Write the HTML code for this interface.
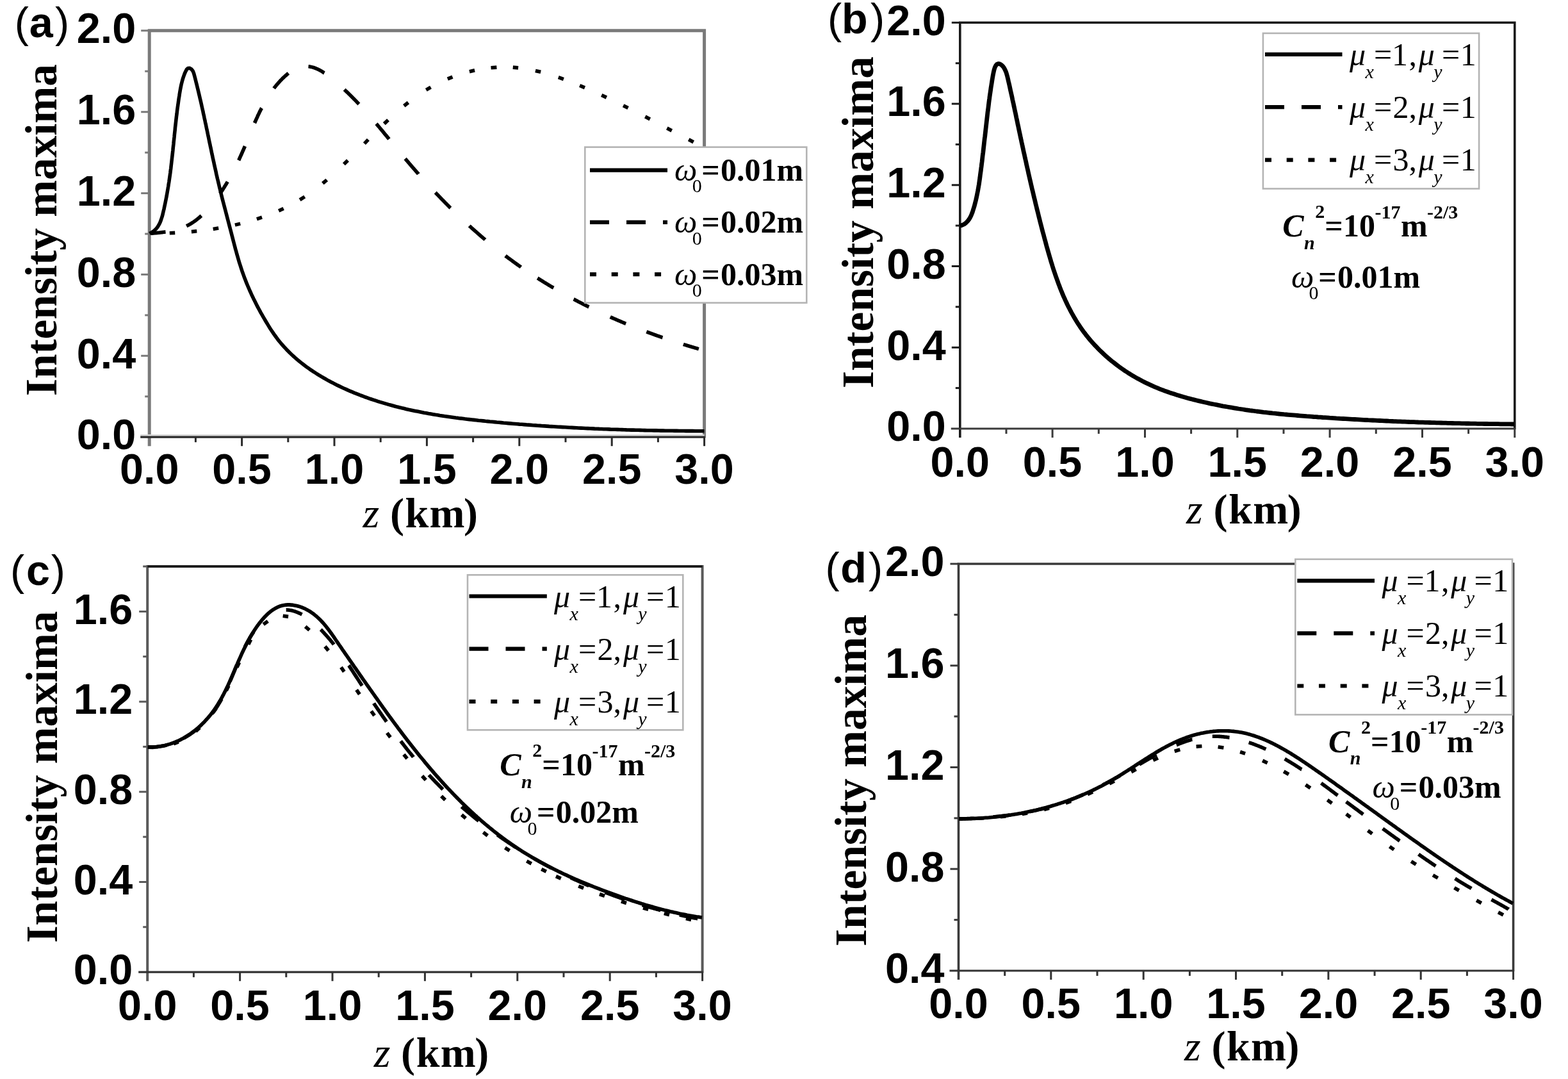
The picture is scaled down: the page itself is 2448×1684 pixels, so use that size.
<!DOCTYPE html>
<html><head><meta charset="utf-8"><title>Intensity maxima vs z</title>
<style>html,body{margin:0;padding:0;background:#fff;}svg{display:block;}.tk{font-family:'Liberation Sans', Arial, sans-serif;font-weight:bold;font-size:66.5px;fill:#000;}.yl{font-family:'Liberation Serif', 'Times New Roman', serif;font-weight:bold;font-size:70px;fill:#000;}.xl{font-family:'Liberation Serif', 'Times New Roman', serif;font-weight:bold;font-size:66px;fill:#000;}.pl{font-family:'Liberation Sans', Arial, sans-serif;font-size:66.5px;fill:#000;}.lg{font-family:'Liberation Serif', 'Times New Roman', serif;font-size:50px;fill:#000;}.b{font-weight:bold;}.i{font-style:italic;}.s{font-size:30px;}</style></head><body>
<svg xmlns="http://www.w3.org/2000/svg" width="2448" height="1684" viewBox="0 0 2448 1684">
<rect width="100%" height="100%" fill="#fff"/>
<path d="M233.2,696.2 V47.8 H1099.6 V683.2" fill="none" stroke="#7a7a7a" stroke-width="5.0"/>
<line x1="219.2" y1="679.6" x2="1099.6" y2="679.6" stroke="#d6d6d6" stroke-width="3"/>
<line x1="219.2" y1="682.2" x2="1100.6" y2="682.2" stroke="#2a2a2a" stroke-width="3.2"/>
<line x1="226.2" y1="618.8" x2="233.2" y2="618.8" stroke="#7a7a7a" stroke-width="3"/>
<line x1="220.2" y1="555.3" x2="233.2" y2="555.3" stroke="#7a7a7a" stroke-width="3"/>
<line x1="226.2" y1="491.9" x2="233.2" y2="491.9" stroke="#7a7a7a" stroke-width="3"/>
<line x1="220.2" y1="428.4" x2="233.2" y2="428.4" stroke="#7a7a7a" stroke-width="3"/>
<line x1="226.2" y1="365.0" x2="233.2" y2="365.0" stroke="#7a7a7a" stroke-width="3"/>
<line x1="220.2" y1="301.6" x2="233.2" y2="301.6" stroke="#7a7a7a" stroke-width="3"/>
<line x1="226.2" y1="238.1" x2="233.2" y2="238.1" stroke="#7a7a7a" stroke-width="3"/>
<line x1="220.2" y1="174.7" x2="233.2" y2="174.7" stroke="#7a7a7a" stroke-width="3"/>
<line x1="226.2" y1="111.2" x2="233.2" y2="111.2" stroke="#7a7a7a" stroke-width="3"/>
<line x1="220.2" y1="47.8" x2="233.2" y2="47.8" stroke="#7a7a7a" stroke-width="3"/>
<line x1="305.4" y1="682.2" x2="305.4" y2="690.2" stroke="#2a2a2a" stroke-width="3"/>
<line x1="377.6" y1="682.2" x2="377.6" y2="696.2" stroke="#2a2a2a" stroke-width="3"/>
<line x1="449.8" y1="682.2" x2="449.8" y2="690.2" stroke="#2a2a2a" stroke-width="3"/>
<line x1="522.0" y1="682.2" x2="522.0" y2="696.2" stroke="#2a2a2a" stroke-width="3"/>
<line x1="594.2" y1="682.2" x2="594.2" y2="690.2" stroke="#2a2a2a" stroke-width="3"/>
<line x1="666.4" y1="682.2" x2="666.4" y2="696.2" stroke="#2a2a2a" stroke-width="3"/>
<line x1="738.6" y1="682.2" x2="738.6" y2="690.2" stroke="#2a2a2a" stroke-width="3"/>
<line x1="810.8" y1="682.2" x2="810.8" y2="696.2" stroke="#2a2a2a" stroke-width="3"/>
<line x1="883.0" y1="682.2" x2="883.0" y2="690.2" stroke="#2a2a2a" stroke-width="3"/>
<line x1="955.2" y1="682.2" x2="955.2" y2="696.2" stroke="#2a2a2a" stroke-width="3"/>
<line x1="1027.4" y1="682.2" x2="1027.4" y2="690.2" stroke="#2a2a2a" stroke-width="3"/>
<line x1="1099.6" y1="682.2" x2="1099.6" y2="696.2" stroke="#2a2a2a" stroke-width="3"/>
<text x="212.2" y="701.4" text-anchor="end" class="tk">0.0</text>
<text x="212.2" y="574.5" text-anchor="end" class="tk">0.4</text>
<text x="212.2" y="447.6" text-anchor="end" class="tk">0.8</text>
<text x="212.2" y="320.8" text-anchor="end" class="tk">1.2</text>
<text x="212.2" y="193.9" text-anchor="end" class="tk">1.6</text>
<text x="212.2" y="67.0" text-anchor="end" class="tk">2.0</text>
<text x="233.2" y="755.2" text-anchor="middle" class="tk">0.0</text>
<text x="377.6" y="755.2" text-anchor="middle" class="tk">0.5</text>
<text x="522.0" y="755.2" text-anchor="middle" class="tk">1.0</text>
<text x="666.4" y="755.2" text-anchor="middle" class="tk">1.5</text>
<text x="810.8" y="755.2" text-anchor="middle" class="tk">2.0</text>
<text x="955.2" y="755.2" text-anchor="middle" class="tk">2.5</text>
<text x="1099.6" y="755.2" text-anchor="middle" class="tk">3.0</text>
<path d="M1498.8,683.0 V35.3 H2364.8 V670.0" fill="none" stroke="#1a1a1a" stroke-width="3.6"/>
<line x1="1484.8" y1="669.0" x2="2365.8" y2="669.0" stroke="#3a3a3a" stroke-width="3.2"/>
<line x1="1491.8" y1="605.6" x2="1498.8" y2="605.6" stroke="#1a1a1a" stroke-width="3"/>
<line x1="1485.8" y1="542.3" x2="1498.8" y2="542.3" stroke="#1a1a1a" stroke-width="3"/>
<line x1="1491.8" y1="478.9" x2="1498.8" y2="478.9" stroke="#1a1a1a" stroke-width="3"/>
<line x1="1485.8" y1="415.5" x2="1498.8" y2="415.5" stroke="#1a1a1a" stroke-width="3"/>
<line x1="1491.8" y1="352.1" x2="1498.8" y2="352.1" stroke="#1a1a1a" stroke-width="3"/>
<line x1="1485.8" y1="288.8" x2="1498.8" y2="288.8" stroke="#1a1a1a" stroke-width="3"/>
<line x1="1491.8" y1="225.4" x2="1498.8" y2="225.4" stroke="#1a1a1a" stroke-width="3"/>
<line x1="1485.8" y1="162.0" x2="1498.8" y2="162.0" stroke="#1a1a1a" stroke-width="3"/>
<line x1="1491.8" y1="98.7" x2="1498.8" y2="98.7" stroke="#1a1a1a" stroke-width="3"/>
<line x1="1485.8" y1="35.3" x2="1498.8" y2="35.3" stroke="#1a1a1a" stroke-width="3"/>
<line x1="1571.0" y1="669.0" x2="1571.0" y2="677.0" stroke="#3a3a3a" stroke-width="3"/>
<line x1="1643.1" y1="669.0" x2="1643.1" y2="683.0" stroke="#3a3a3a" stroke-width="3"/>
<line x1="1715.3" y1="669.0" x2="1715.3" y2="677.0" stroke="#3a3a3a" stroke-width="3"/>
<line x1="1787.5" y1="669.0" x2="1787.5" y2="683.0" stroke="#3a3a3a" stroke-width="3"/>
<line x1="1859.6" y1="669.0" x2="1859.6" y2="677.0" stroke="#3a3a3a" stroke-width="3"/>
<line x1="1931.8" y1="669.0" x2="1931.8" y2="683.0" stroke="#3a3a3a" stroke-width="3"/>
<line x1="2004.0" y1="669.0" x2="2004.0" y2="677.0" stroke="#3a3a3a" stroke-width="3"/>
<line x1="2076.1" y1="669.0" x2="2076.1" y2="683.0" stroke="#3a3a3a" stroke-width="3"/>
<line x1="2148.3" y1="669.0" x2="2148.3" y2="677.0" stroke="#3a3a3a" stroke-width="3"/>
<line x1="2220.5" y1="669.0" x2="2220.5" y2="683.0" stroke="#3a3a3a" stroke-width="3"/>
<line x1="2292.6" y1="669.0" x2="2292.6" y2="677.0" stroke="#3a3a3a" stroke-width="3"/>
<line x1="2364.8" y1="669.0" x2="2364.8" y2="683.0" stroke="#3a3a3a" stroke-width="3"/>
<text x="1476.8" y="688.2" text-anchor="end" class="tk">0.0</text>
<text x="1476.8" y="561.5" text-anchor="end" class="tk">0.4</text>
<text x="1476.8" y="434.7" text-anchor="end" class="tk">0.8</text>
<text x="1476.8" y="308.0" text-anchor="end" class="tk">1.2</text>
<text x="1476.8" y="181.2" text-anchor="end" class="tk">1.6</text>
<text x="1476.8" y="54.5" text-anchor="end" class="tk">2.0</text>
<text x="1498.8" y="743.5" text-anchor="middle" class="tk">0.0</text>
<text x="1643.1" y="743.5" text-anchor="middle" class="tk">0.5</text>
<text x="1787.5" y="743.5" text-anchor="middle" class="tk">1.0</text>
<text x="1931.8" y="743.5" text-anchor="middle" class="tk">1.5</text>
<text x="2076.1" y="743.5" text-anchor="middle" class="tk">2.0</text>
<text x="2220.5" y="743.5" text-anchor="middle" class="tk">2.5</text>
<text x="2364.8" y="743.5" text-anchor="middle" class="tk">3.0</text>
<path d="M230.2,1531.2 V884.0 H1096.6 V1518.2" fill="none" stroke="#5a5a5a" stroke-width="4.0"/>
<line x1="230.2" y1="884.0" x2="1096.6" y2="884.0" stroke="#1a1a1a" stroke-width="3.4"/>
<line x1="216.2" y1="1517.2" x2="1097.6" y2="1517.2" stroke="#333" stroke-width="3.2"/>
<line x1="223.2" y1="1446.8" x2="230.2" y2="1446.8" stroke="#5a5a5a" stroke-width="3"/>
<line x1="217.2" y1="1376.5" x2="230.2" y2="1376.5" stroke="#5a5a5a" stroke-width="3"/>
<line x1="223.2" y1="1306.1" x2="230.2" y2="1306.1" stroke="#5a5a5a" stroke-width="3"/>
<line x1="217.2" y1="1235.8" x2="230.2" y2="1235.8" stroke="#5a5a5a" stroke-width="3"/>
<line x1="223.2" y1="1165.4" x2="230.2" y2="1165.4" stroke="#5a5a5a" stroke-width="3"/>
<line x1="217.2" y1="1095.1" x2="230.2" y2="1095.1" stroke="#5a5a5a" stroke-width="3"/>
<line x1="223.2" y1="1024.7" x2="230.2" y2="1024.7" stroke="#5a5a5a" stroke-width="3"/>
<line x1="217.2" y1="954.4" x2="230.2" y2="954.4" stroke="#5a5a5a" stroke-width="3"/>
<line x1="223.2" y1="884.0" x2="230.2" y2="884.0" stroke="#5a5a5a" stroke-width="3"/>
<line x1="302.4" y1="1517.2" x2="302.4" y2="1525.2" stroke="#333" stroke-width="3"/>
<line x1="374.6" y1="1517.2" x2="374.6" y2="1531.2" stroke="#333" stroke-width="3"/>
<line x1="446.8" y1="1517.2" x2="446.8" y2="1525.2" stroke="#333" stroke-width="3"/>
<line x1="519.0" y1="1517.2" x2="519.0" y2="1531.2" stroke="#333" stroke-width="3"/>
<line x1="591.2" y1="1517.2" x2="591.2" y2="1525.2" stroke="#333" stroke-width="3"/>
<line x1="663.4" y1="1517.2" x2="663.4" y2="1531.2" stroke="#333" stroke-width="3"/>
<line x1="735.6" y1="1517.2" x2="735.6" y2="1525.2" stroke="#333" stroke-width="3"/>
<line x1="807.8" y1="1517.2" x2="807.8" y2="1531.2" stroke="#333" stroke-width="3"/>
<line x1="880.0" y1="1517.2" x2="880.0" y2="1525.2" stroke="#333" stroke-width="3"/>
<line x1="952.2" y1="1517.2" x2="952.2" y2="1531.2" stroke="#333" stroke-width="3"/>
<line x1="1024.4" y1="1517.2" x2="1024.4" y2="1525.2" stroke="#333" stroke-width="3"/>
<line x1="1096.6" y1="1517.2" x2="1096.6" y2="1531.2" stroke="#333" stroke-width="3"/>
<text x="207.2" y="1536.4" text-anchor="end" class="tk">0.0</text>
<text x="207.2" y="1395.7" text-anchor="end" class="tk">0.4</text>
<text x="207.2" y="1255.0" text-anchor="end" class="tk">0.8</text>
<text x="207.2" y="1114.3" text-anchor="end" class="tk">1.2</text>
<text x="207.2" y="973.6" text-anchor="end" class="tk">1.6</text>
<text x="230.2" y="1591.7" text-anchor="middle" class="tk">0.0</text>
<text x="374.6" y="1591.7" text-anchor="middle" class="tk">0.5</text>
<text x="519.0" y="1591.7" text-anchor="middle" class="tk">1.0</text>
<text x="663.4" y="1591.7" text-anchor="middle" class="tk">1.5</text>
<text x="807.8" y="1591.7" text-anchor="middle" class="tk">2.0</text>
<text x="952.2" y="1591.7" text-anchor="middle" class="tk">2.5</text>
<text x="1096.6" y="1591.7" text-anchor="middle" class="tk">3.0</text>
<path d="M1496.5,1529.0 V880.0 H2362.6 V1516.0" fill="none" stroke="#3a3a3a" stroke-width="3.6"/>
<line x1="1482.5" y1="1515.0" x2="2363.6" y2="1515.0" stroke="#333" stroke-width="3.2"/>
<line x1="1489.5" y1="1435.6" x2="1496.5" y2="1435.6" stroke="#3a3a3a" stroke-width="3"/>
<line x1="1483.5" y1="1356.2" x2="1496.5" y2="1356.2" stroke="#3a3a3a" stroke-width="3"/>
<line x1="1489.5" y1="1276.9" x2="1496.5" y2="1276.9" stroke="#3a3a3a" stroke-width="3"/>
<line x1="1483.5" y1="1197.5" x2="1496.5" y2="1197.5" stroke="#3a3a3a" stroke-width="3"/>
<line x1="1489.5" y1="1118.1" x2="1496.5" y2="1118.1" stroke="#3a3a3a" stroke-width="3"/>
<line x1="1483.5" y1="1038.8" x2="1496.5" y2="1038.8" stroke="#3a3a3a" stroke-width="3"/>
<line x1="1489.5" y1="959.4" x2="1496.5" y2="959.4" stroke="#3a3a3a" stroke-width="3"/>
<line x1="1483.5" y1="880.0" x2="1496.5" y2="880.0" stroke="#3a3a3a" stroke-width="3"/>
<line x1="1568.7" y1="1515.0" x2="1568.7" y2="1523.0" stroke="#333" stroke-width="3"/>
<line x1="1640.8" y1="1515.0" x2="1640.8" y2="1529.0" stroke="#333" stroke-width="3"/>
<line x1="1713.0" y1="1515.0" x2="1713.0" y2="1523.0" stroke="#333" stroke-width="3"/>
<line x1="1785.2" y1="1515.0" x2="1785.2" y2="1529.0" stroke="#333" stroke-width="3"/>
<line x1="1857.4" y1="1515.0" x2="1857.4" y2="1523.0" stroke="#333" stroke-width="3"/>
<line x1="1929.5" y1="1515.0" x2="1929.5" y2="1529.0" stroke="#333" stroke-width="3"/>
<line x1="2001.7" y1="1515.0" x2="2001.7" y2="1523.0" stroke="#333" stroke-width="3"/>
<line x1="2073.9" y1="1515.0" x2="2073.9" y2="1529.0" stroke="#333" stroke-width="3"/>
<line x1="2146.1" y1="1515.0" x2="2146.1" y2="1523.0" stroke="#333" stroke-width="3"/>
<line x1="2218.2" y1="1515.0" x2="2218.2" y2="1529.0" stroke="#333" stroke-width="3"/>
<line x1="2290.4" y1="1515.0" x2="2290.4" y2="1523.0" stroke="#333" stroke-width="3"/>
<line x1="2362.6" y1="1515.0" x2="2362.6" y2="1529.0" stroke="#333" stroke-width="3"/>
<text x="1474.5" y="1534.2" text-anchor="end" class="tk">0.4</text>
<text x="1474.5" y="1375.5" text-anchor="end" class="tk">0.8</text>
<text x="1474.5" y="1216.7" text-anchor="end" class="tk">1.2</text>
<text x="1474.5" y="1058.0" text-anchor="end" class="tk">1.6</text>
<text x="1474.5" y="899.2" text-anchor="end" class="tk">2.0</text>
<text x="1496.5" y="1588.5" text-anchor="middle" class="tk">0.0</text>
<text x="1640.8" y="1588.5" text-anchor="middle" class="tk">0.5</text>
<text x="1785.2" y="1588.5" text-anchor="middle" class="tk">1.0</text>
<text x="1929.5" y="1588.5" text-anchor="middle" class="tk">1.5</text>
<text x="2073.9" y="1588.5" text-anchor="middle" class="tk">2.0</text>
<text x="2218.2" y="1588.5" text-anchor="middle" class="tk">2.5</text>
<text x="2362.6" y="1588.5" text-anchor="middle" class="tk">3.0</text>
<path d="M233.5,364.5 L236.8,362.8 L239.7,360.9 L242.3,358.6 L244.6,356.1 L246.6,353.3 L248.3,350.4 L249.9,347.2 L251.2,343.9 L252.3,340.5 L253.4,337.1 L254.3,333.5 L255.1,329.9 L256.0,326.4 L256.7,322.8 L257.5,319.2 L258.2,315.7 L258.9,312.2 L259.6,308.7 L260.3,305.1 L260.9,301.6 L261.5,298.1 L262.1,294.6 L262.7,291.1 L263.2,287.6 L263.8,284.1 L264.3,280.6 L264.8,277.1 L265.3,273.6 L265.8,270.1 L266.2,266.6 L266.7,263.1 L267.1,259.5 L267.5,256.0 L267.9,252.5 L268.3,249.0 L268.7,245.4 L269.1,241.9 L269.5,238.4 L269.9,234.8 L270.2,231.3 L270.6,227.7 L271.0,224.2 L271.3,220.6 L271.7,217.1 L272.1,213.5 L272.4,210.0 L272.8,206.4 L273.2,202.9 L273.5,199.3 L273.9,195.8 L274.3,192.2 L274.7,188.7 L275.1,185.1 L275.5,181.6 L276.0,178.0 L276.4,174.5 L276.8,170.9 L277.3,167.4 L277.8,163.8 L278.3,160.3 L278.8,156.7 L279.3,153.2 L279.9,149.7 L280.4,146.1 L281.0,142.6 L281.6,139.1 L282.3,135.6 L283.0,132.1 L283.9,128.6 L284.8,125.1 L285.8,121.7 L287.0,118.4 L288.2,115.0 L289.7,111.7 L291.3,108.6 L293.4,106.5 L296.2,106.4 L299.1,108.2 L301.2,111.0 L302.6,114.6 L303.6,118.3 L304.6,122.0 L305.5,125.7 L306.4,129.2 L307.3,132.8 L308.1,136.2 L309.0,139.7 L309.8,143.1 L310.6,146.5 L311.4,149.9 L312.2,153.3 L313.0,156.7 L313.8,160.1 L314.6,163.6 L315.3,167.0 L316.1,170.5 L316.9,173.9 L317.6,177.4 L318.4,180.8 L319.1,184.3 L319.9,187.8 L320.6,191.3 L321.4,194.7 L322.1,198.2 L322.8,201.7 L323.6,205.2 L324.3,208.7 L325.0,212.2 L325.8,215.7 L326.5,219.2 L327.2,222.7 L328.0,226.2 L328.7,229.7 L329.5,233.2 L330.2,236.7 L330.9,240.2 L331.7,243.7 L332.4,247.2 L333.2,250.7 L334.0,254.2 L334.7,257.7 L335.5,261.1 L336.3,264.6 L337.1,268.1 L337.8,271.6 L338.6,275.1 L339.4,278.6 L340.3,282.1 L341.1,285.5 L341.9,289.0 L342.7,292.5 L343.6,295.9 L344.4,299.4 L345.3,302.8 L346.1,306.3 L347.0,309.7 L347.9,313.2 L348.8,316.6 L349.7,320.1 L350.6,323.5 L351.5,326.9 L352.4,330.4 L353.3,333.8 L354.2,337.3 L355.1,340.7 L356.0,344.1 L356.9,347.6 L357.8,351.0 L358.7,354.5 L359.6,357.9 L360.5,361.3 L361.4,364.8 L362.3,368.3 L363.2,371.7 L364.1,375.2 L365.0,378.6 L365.9,382.1 L366.8,385.5 L367.7,389.0 L368.7,392.4 L369.6,395.9 L370.6,399.3 L371.6,402.8 L372.6,406.2 L373.6,409.6 L374.7,413.0 L375.8,416.4 L376.9,419.8 L378.0,423.2 L379.2,426.5 L380.4,429.9 L381.6,433.2 L382.9,436.6 L384.2,439.9 L385.5,443.2 L386.9,446.5 L388.3,449.7 L389.7,453.0 L391.2,456.2 L392.6,459.5 L394.2,462.7 L395.7,465.9 L397.3,469.1 L398.9,472.3 L400.5,475.5 L402.1,478.6 L403.8,481.8 L405.5,484.9 L407.2,488.1 L409.0,491.2 L410.8,494.3 L412.6,497.4 L414.4,500.5 L416.2,503.5 L418.1,506.6 L419.9,509.6 L421.8,512.7 L423.8,515.7 L425.8,518.6 L427.8,521.6 L429.9,524.5 L432.0,527.4 L434.1,530.2 L436.3,533.0 L438.6,535.7 L440.9,538.4 L443.3,541.1 L445.7,543.7 L448.1,546.2 L450.6,548.8 L453.1,551.3 L455.7,553.7 L458.3,556.1 L461.0,558.5 L463.7,560.8 L466.4,563.1 L469.2,565.4 L472.0,567.6 L474.8,569.7 L477.7,571.9 L480.6,574.0 L483.5,576.1 L486.5,578.1 L489.5,580.1 L492.5,582.0 L495.5,584.0 L498.6,585.8 L501.6,587.7 L504.7,589.5 L507.9,591.3 L511.0,593.1 L514.1,594.8 L517.3,596.5 L520.5,598.1 L523.7,599.8 L526.9,601.4 L530.1,602.9 L533.4,604.5 L536.6,606.0 L539.9,607.4 L543.1,608.9 L546.4,610.3 L549.7,611.7 L553.0,613.1 L556.3,614.4 L559.6,615.7 L562.9,617.0 L566.2,618.2 L569.5,619.5 L572.9,620.7 L576.2,621.9 L579.6,623.0 L583.0,624.1 L586.3,625.2 L589.7,626.3 L593.1,627.4 L596.5,628.4 L599.9,629.4 L603.3,630.4 L606.7,631.4 L610.1,632.3 L613.6,633.3 L617.0,634.2 L620.4,635.1 L623.9,635.9 L627.3,636.8 L630.8,637.6 L634.2,638.4 L637.7,639.2 L641.2,639.9 L644.7,640.7 L648.1,641.4 L651.6,642.1 L655.1,642.8 L658.6,643.5 L662.1,644.2 L665.6,644.8 L669.1,645.5 L672.6,646.1 L676.2,646.7 L679.7,647.3 L683.2,647.8 L686.7,648.4 L690.3,648.9 L693.8,649.5 L697.3,650.0 L700.9,650.5 L704.4,651.0 L707.9,651.5 L711.5,652.0 L715.0,652.4 L718.6,652.9 L722.1,653.3 L725.7,653.8 L729.2,654.2 L732.8,654.6 L736.4,655.0 L739.9,655.4 L743.5,655.8 L747.0,656.2 L750.6,656.5 L754.2,656.9 L757.7,657.3 L761.3,657.6 L764.8,658.0 L768.4,658.3 L772.0,658.6 L775.5,659.0 L779.1,659.3 L782.6,659.6 L786.2,660.0 L789.7,660.3 L793.3,660.6 L796.9,660.9 L800.4,661.2 L804.0,661.5 L807.5,661.8 L811.1,662.1 L814.6,662.3 L818.2,662.6 L821.8,662.9 L825.3,663.1 L828.9,663.4 L832.4,663.7 L836.0,663.9 L839.5,664.2 L843.1,664.4 L846.6,664.7 L850.2,664.9 L853.8,665.1 L857.3,665.4 L860.9,665.6 L864.4,665.8 L868.0,666.0 L871.5,666.2 L875.1,666.4 L878.6,666.6 L882.2,666.8 L885.7,667.0 L889.3,667.2 L892.8,667.4 L896.4,667.6 L900.0,667.8 L903.5,668.0 L907.1,668.1 L910.6,668.3 L914.2,668.5 L917.7,668.6 L921.3,668.8 L924.8,668.9 L928.4,669.1 L932.0,669.2 L935.5,669.4 L939.1,669.5 L942.6,669.7 L946.2,669.8 L949.7,669.9 L953.3,670.1 L956.8,670.2 L960.4,670.3 L964.0,670.4 L967.5,670.5 L971.1,670.6 L974.6,670.7 L978.2,670.9 L981.8,671.0 L985.3,671.1 L988.9,671.1 L992.4,671.2 L996.0,671.3 L999.6,671.4 L1003.1,671.5 L1006.7,671.6 L1010.2,671.7 L1013.8,671.7 L1017.4,671.8 L1020.9,671.9 L1024.5,671.9 L1028.1,672.0 L1031.6,672.1 L1035.2,672.1 L1038.8,672.2 L1042.3,672.2 L1045.9,672.3 L1049.5,672.3 L1053.0,672.4 L1056.6,672.4 L1060.2,672.5 L1063.7,672.5 L1067.3,672.5 L1070.9,672.6 L1074.5,672.6 L1078.0,672.6 L1081.6,672.6 L1085.2,672.7 L1088.8,672.7 L1092.3,672.7 L1095.9,672.7 L1099.5,672.7" fill="none" stroke="#000" stroke-width="5.6" stroke-linejoin="round"/>
<path d="M235.7,364.3 L236.9,364.2 L238.0,364.1 L239.1,364.0 L240.3,363.9 L241.4,363.8 L242.6,363.7 L243.7,363.6 L244.9,363.5 L246.0,363.4 L247.2,363.3 L248.3,363.2 L249.5,363.0 L250.7,362.9 L251.8,362.8 L253.0,362.6 L254.2,362.5 L255.3,362.3 L256.5,362.2 L257.7,362.0 L258.5,361.9 M291.1,352.8 L292.1,352.3 L293.2,351.8 L294.2,351.2 L295.2,350.7 L296.2,350.1 L297.2,349.5 L298.2,349.0 L299.1,348.4 L300.1,347.7 L301.1,347.1 L302.0,346.5 L303.0,345.8 L303.9,345.2 L304.9,344.5 L305.8,343.8 L306.7,343.1 L307.6,342.4 L308.5,341.7 L309.4,340.9 L310.3,340.2 L311.2,339.5 L312.1,338.7 L312.9,337.9 L313.8,337.2 L314.4,336.7 M343.6,302.1 L344.2,301.2 L344.9,300.2 L345.5,299.3 L346.1,298.3 L346.8,297.3 L347.4,296.4 L348.1,295.4 L348.7,294.4 L349.3,293.4 L349.9,292.5 L350.5,291.5 L351.1,290.5 L351.7,289.5 L352.4,288.5 L353.0,287.5 L353.5,286.6 L354.1,285.6 L354.7,284.6 L355.3,283.6 L355.3,283.6 M372.6,250.2 L373.1,249.2 L373.6,248.1 L374.1,247.1 L374.6,246.0 L375.0,244.9 L375.5,243.9 L376.0,242.8 L376.5,241.8 L377.0,240.7 L377.4,239.6 L377.9,238.6 L378.4,237.5 L378.8,236.4 L379.3,235.3 L379.8,234.3 L380.2,233.2 L380.7,232.1 L381.2,231.1 L381.6,230.0 L382.1,228.9 L382.4,228.2 M397.5,192.0 L398.0,190.9 L398.4,189.8 L398.9,188.8 L399.4,187.7 L399.8,186.7 L400.3,185.6 L400.8,184.5 L401.3,183.5 L401.8,182.4 L402.2,181.4 L402.7,180.3 L403.2,179.3 L403.7,178.2 L404.2,177.2 L404.7,176.1 L405.2,175.1 L405.7,174.1 L406.2,173.0 L406.7,172.0 L407.3,171.0 L407.8,169.9 L408.3,168.9 L408.5,168.6 M427.6,137.9 L428.3,136.9 L429.1,136.0 L429.8,135.1 L430.5,134.2 L431.3,133.3 L432.0,132.4 L432.8,131.5 L433.6,130.6 L434.3,129.7 L435.1,128.8 L435.9,128.0 L436.7,127.1 L437.5,126.2 L438.3,125.3 L439.2,124.5 L440.0,123.6 L440.8,122.8 L441.7,121.9 L442.6,121.1 L443.4,120.3 L444.3,119.5 L445.2,118.7 L446.1,117.9 L447.0,117.1 L447.9,116.3 L448.8,115.5 L449.8,114.8 L450.4,114.3 M481.5,103.7 L482.6,103.8 L483.6,104.0 L484.7,104.2 L485.8,104.4 L486.8,104.6 L487.8,104.9 L488.9,105.2 L489.9,105.5 L491.0,105.9 L492.0,106.3 L493.0,106.7 L494.0,107.1 L495.1,107.5 L496.1,108.0 L497.1,108.5 L498.1,109.0 L499.1,109.5 L500.1,110.1 L501.1,110.6 L502.1,111.2 L503.1,111.8 L504.1,112.4 L505.1,113.1 L506.0,113.7 L506.4,113.9 M537.7,139.8 L538.6,140.7 L539.4,141.5 L540.3,142.3 L541.1,143.1 L542.0,143.9 L542.8,144.7 L543.7,145.5 L544.5,146.4 L545.4,147.2 L546.2,148.0 L547.0,148.8 L547.9,149.7 L548.7,150.5 L549.5,151.3 L550.4,152.2 L551.2,153.0 L552.0,153.8 L552.8,154.7 L553.7,155.5 L554.5,156.3 L555.3,157.2 L556.1,158.0 L556.9,158.9 L557.7,159.7 L558.5,160.5 L559.3,161.4 L560.1,162.2 L560.4,162.5 M587.5,193.1 L588.3,194.0 L589.0,194.9 L589.8,195.8 L590.5,196.7 L591.3,197.5 L592.0,198.4 L592.7,199.3 L593.5,200.2 L594.2,201.1 L595.0,202.0 L595.7,202.9 L596.4,203.7 L597.2,204.6 L597.9,205.5 L598.6,206.4 L599.4,207.3 L600.1,208.2 L600.8,209.1 L601.6,210.0 L602.3,210.9 L603.0,211.7 L603.8,212.6 L604.5,213.5 L605.2,214.4 L606.0,215.3 L606.7,216.2 L607.4,217.1 L607.4,217.1 M632.6,247.6 L633.4,248.5 L634.1,249.4 L634.9,250.3 L635.6,251.1 L636.4,252.0 L637.1,252.9 L637.9,253.8 L638.6,254.7 L639.4,255.5 L640.1,256.4 L640.9,257.3 L641.6,258.2 L642.4,259.1 L643.1,259.9 L643.9,260.8 L644.7,261.7 L645.4,262.6 L646.2,263.4 L646.9,264.3 L647.7,265.2 L648.5,266.1 L649.2,266.9 L650.0,267.8 L650.8,268.7 L651.5,269.6 L652.3,270.4 L653.1,271.3 L653.3,271.6 M679.7,300.5 L680.5,301.3 L681.3,302.1 L682.1,303.0 L683.0,303.8 L683.8,304.7 L684.6,305.5 L685.4,306.3 L686.2,307.2 L687.0,308.0 L687.8,308.9 L688.6,309.7 L689.4,310.5 L690.2,311.4 L691.0,312.2 L691.9,313.0 L692.7,313.9 L693.5,314.7 L694.3,315.5 L695.1,316.4 L695.9,317.2 L696.8,318.0 L697.6,318.8 L698.4,319.7 L699.2,320.5 L700.1,321.3 L700.9,322.1 L701.7,323.0 L702.5,323.8 L703.4,324.6 L703.4,324.6 M732.7,352.4 L733.5,353.2 L734.4,353.9 L735.3,354.7 L736.1,355.5 L737.0,356.3 L737.9,357.1 L738.7,357.8 L739.6,358.6 L740.5,359.4 L741.3,360.2 L742.2,360.9 L743.1,361.7 L744.0,362.5 L744.8,363.2 L745.7,364.0 L746.6,364.8 L747.5,365.5 L748.3,366.3 L749.2,367.0 L750.1,367.8 L751.0,368.6 L751.9,369.3 L752.8,370.1 L753.6,370.8 L754.5,371.6 L755.4,372.3 L756.3,373.1 L757.2,373.8 L757.5,374.1 M789.0,399.2 L789.9,399.9 L790.9,400.6 L791.8,401.3 L792.7,402.0 L793.7,402.7 L794.6,403.4 L795.5,404.0 L796.5,404.7 L797.4,405.4 L798.3,406.1 L799.3,406.8 L800.2,407.5 L801.1,408.2 L802.1,408.8 L803.0,409.5 L804.0,410.2 L804.9,410.9 L805.9,411.5 L806.8,412.2 L807.7,412.9 L808.7,413.6 L809.6,414.2 L810.6,414.9 L811.5,415.6 L812.5,416.2 L813.4,416.9 L813.4,416.9 M839.2,434.0 L840.2,434.6 L841.2,435.2 L842.1,435.9 L843.1,436.5 L844.1,437.1 L845.1,437.7 L846.1,438.3 L847.0,438.9 L848.0,439.6 L849.0,440.2 L850.0,440.8 L851.0,441.4 L852.0,442.0 L853.0,442.6 L854.0,443.2 L855.0,443.8 L855.9,444.4 L856.9,445.0 L857.9,445.6 L858.9,446.2 L859.9,446.8 L860.9,447.4 L861.9,448.0 L862.9,448.6 L863.9,449.1 L864.3,449.3 M895.6,466.9 L896.7,467.4 L897.7,468.0 L898.7,468.5 L899.7,469.1 L900.8,469.6 L901.8,470.1 L902.8,470.7 L903.9,471.2 L904.9,471.7 L905.9,472.3 L906.9,472.8 L908.0,473.3 L909.0,473.9 L910.0,474.4 L911.1,474.9 L912.1,475.4 L913.2,476.0 L914.2,476.5 L915.2,477.0 L916.3,477.5 L917.3,478.0 L918.3,478.6 L919.4,479.1 L919.4,479.1 M952.7,494.7 L953.7,495.2 L954.8,495.6 L955.9,496.1 L956.9,496.6 L958.0,497.0 L959.0,497.5 L960.1,498.0 L961.2,498.4 L962.2,498.9 L963.3,499.3 L964.4,499.8 L965.4,500.3 L966.5,500.7 L967.6,501.2 L968.7,501.6 L969.7,502.1 L970.8,502.5 L971.9,503.0 L972.9,503.4 L974.0,503.9 L975.1,504.3 L976.2,504.8 L977.2,505.2 L977.2,505.2 M1009.3,517.8 L1010.4,518.2 L1011.5,518.6 L1012.6,519.0 L1013.7,519.4 L1014.8,519.8 L1015.9,520.2 L1017.0,520.6 L1018.0,521.0 L1019.1,521.4 L1020.2,521.8 L1021.3,522.2 L1022.4,522.6 L1023.5,523.0 L1024.6,523.4 L1025.7,523.8 L1026.8,524.2 L1027.9,524.5 L1029.0,524.9 L1030.1,525.3 L1031.2,525.7 L1032.3,526.1 L1033.4,526.5 L1034.5,526.8 L1034.5,526.8 M1066.9,537.4 L1068.0,537.8 L1069.1,538.1 L1070.2,538.4 L1071.3,538.8 L1072.4,539.1 L1073.5,539.5 L1074.6,539.8 L1075.7,540.1 L1076.8,540.5 L1078.0,540.8 L1079.1,541.1 L1080.2,541.5 L1081.3,541.8 L1082.4,542.1 L1083.5,542.4 L1084.6,542.8 L1085.7,543.1 L1086.9,543.4 L1088.0,543.7 L1089.1,544.1 L1090.2,544.4 L1090.9,544.6" fill="none" stroke="#000" stroke-width="5.6"/>
<path d="M264.8,363.8 L273.2,363.4 M298.9,361.6 L307.3,360.8 M332.7,357.5 L341.2,356.1 M366.9,351.1 L375.2,349.1 M400.9,341.9 L409.0,339.2 M435.1,329.0 L442.7,325.5 M468.1,311.8 L475.7,307.0 M503.8,286.2 L510.3,280.8 M536.9,256.3 L543.0,250.3 M568.9,224.1 L574.9,217.9 M599.8,193.1 L606.0,187.2 M630.8,165.2 L637.4,160.0 M665.3,140.4 L672.5,136.2 M698.8,123.2 L706.5,120.1 M732.9,111.7 L741.1,109.8 M766.5,105.8 L775.4,105.1 M800.8,105.1 L809.1,105.9 M835.9,110.4 L844.2,112.3 M871.8,120.7 L879.9,123.6 M905.1,133.5 L913.0,136.8 M939.2,148.5 L946.9,152.1 M973.1,164.7 L980.6,168.5 M1007.3,182.1 L1014.8,186.0 M1041.3,200.0 L1048.8,203.9 M1075.2,217.8 L1082.7,221.8" fill="none" stroke="#000" stroke-width="5.6"/>
<path d="M1498.8,352.5 L1502.4,351.3 L1505.6,349.7 L1508.3,347.6 L1510.7,345.2 L1512.8,342.4 L1514.6,339.4 L1516.2,336.2 L1517.6,332.8 L1518.8,329.3 L1519.9,325.8 L1521.0,322.3 L1521.9,318.8 L1522.8,315.3 L1523.7,311.8 L1524.5,308.3 L1525.2,304.9 L1525.9,301.4 L1526.6,297.9 L1527.2,294.5 L1527.8,291.0 L1528.4,287.6 L1528.9,284.1 L1529.4,280.6 L1529.9,277.1 L1530.3,273.6 L1530.8,270.1 L1531.3,266.6 L1531.7,263.1 L1532.2,259.5 L1532.6,256.0 L1533.1,252.4 L1533.5,248.8 L1533.9,245.2 L1534.3,241.7 L1534.8,238.1 L1535.2,234.5 L1535.6,230.9 L1536.0,227.3 L1536.4,223.7 L1536.8,220.1 L1537.2,216.5 L1537.7,213.0 L1538.1,209.4 L1538.5,205.8 L1538.9,202.2 L1539.3,198.7 L1539.7,195.2 L1540.1,191.6 L1540.5,188.1 L1540.9,184.6 L1541.3,181.1 L1541.7,177.7 L1542.1,174.2 L1542.6,170.8 L1543.0,167.4 L1543.4,164.0 L1543.8,160.7 L1544.2,157.3 L1544.7,154.0 L1545.1,150.7 L1545.6,147.3 L1546.1,143.9 L1546.6,140.4 L1547.1,136.8 L1547.7,133.2 L1548.3,129.4 L1548.9,125.4 L1549.6,121.3 L1550.3,117.1 L1551.2,112.7 L1552.1,108.7 L1553.3,105.0 L1554.8,102.1 L1556.6,100.2 L1558.7,99.4 L1561.1,99.8 L1563.5,101.3 L1565.7,103.5 L1567.6,106.1 L1569.2,109.1 L1570.6,112.3 L1571.7,115.8 L1572.7,119.4 L1573.6,123.1 L1574.4,126.8 L1575.3,130.5 L1576.1,134.1 L1576.9,137.8 L1577.7,141.4 L1578.5,145.0 L1579.3,148.6 L1580.1,152.1 L1580.8,155.7 L1581.6,159.2 L1582.4,162.7 L1583.1,166.3 L1583.9,169.8 L1584.6,173.3 L1585.4,176.7 L1586.1,180.2 L1586.8,183.7 L1587.6,187.1 L1588.3,190.6 L1589.0,194.1 L1589.8,197.5 L1590.5,201.0 L1591.2,204.4 L1592.0,207.9 L1592.7,211.3 L1593.4,214.8 L1594.2,218.2 L1594.9,221.7 L1595.7,225.1 L1596.4,228.6 L1597.2,232.1 L1597.9,235.5 L1598.7,239.0 L1599.5,242.4 L1600.2,245.9 L1601.0,249.3 L1601.8,252.8 L1602.5,256.2 L1603.3,259.7 L1604.1,263.2 L1604.9,266.6 L1605.6,270.1 L1606.4,273.5 L1607.2,277.0 L1608.0,280.5 L1608.8,283.9 L1609.6,287.4 L1610.4,290.8 L1611.2,294.3 L1612.1,297.8 L1612.9,301.2 L1613.7,304.7 L1614.5,308.1 L1615.4,311.6 L1616.2,315.1 L1617.0,318.5 L1617.9,322.0 L1618.7,325.4 L1619.6,328.9 L1620.5,332.4 L1621.3,335.8 L1622.2,339.3 L1623.1,342.8 L1623.9,346.2 L1624.8,349.7 L1625.7,353.1 L1626.6,356.6 L1627.5,360.1 L1628.4,363.5 L1629.4,367.0 L1630.3,370.5 L1631.2,373.9 L1632.2,377.4 L1633.1,380.9 L1634.0,384.3 L1635.0,387.8 L1636.0,391.2 L1637.0,394.7 L1638.0,398.2 L1639.0,401.6 L1640.0,405.0 L1641.0,408.5 L1642.1,411.9 L1643.1,415.3 L1644.2,418.7 L1645.3,422.2 L1646.5,425.6 L1647.6,428.9 L1648.8,432.3 L1650.0,435.7 L1651.2,439.0 L1652.4,442.4 L1653.7,445.7 L1654.9,449.0 L1656.2,452.3 L1657.6,455.6 L1658.9,458.9 L1660.3,462.2 L1661.8,465.4 L1663.2,468.6 L1664.7,471.8 L1666.2,475.0 L1667.8,478.2 L1669.4,481.3 L1671.0,484.4 L1672.7,487.6 L1674.4,490.6 L1676.1,493.7 L1677.9,496.7 L1679.7,499.8 L1681.5,502.7 L1683.4,505.7 L1685.4,508.7 L1687.3,511.6 L1689.4,514.5 L1691.4,517.3 L1693.6,520.1 L1695.7,523.0 L1697.9,525.7 L1700.2,528.5 L1702.5,531.2 L1704.8,533.9 L1707.2,536.5 L1709.6,539.1 L1712.1,541.7 L1714.6,544.3 L1717.1,546.8 L1719.7,549.3 L1722.3,551.8 L1724.9,554.2 L1727.6,556.6 L1730.3,559.0 L1733.1,561.3 L1735.8,563.6 L1738.7,565.8 L1741.5,568.0 L1744.4,570.2 L1747.3,572.4 L1750.2,574.5 L1753.1,576.5 L1756.1,578.6 L1759.1,580.5 L1762.1,582.5 L1765.2,584.4 L1768.3,586.3 L1771.4,588.1 L1774.5,589.9 L1777.6,591.6 L1780.8,593.3 L1784.0,595.0 L1787.2,596.6 L1790.4,598.2 L1793.6,599.7 L1796.8,601.2 L1800.1,602.7 L1803.4,604.1 L1806.7,605.4 L1810.0,606.8 L1813.3,608.1 L1816.6,609.3 L1819.9,610.6 L1823.3,611.7 L1826.6,612.9 L1830.0,614.0 L1833.4,615.1 L1836.8,616.2 L1840.2,617.2 L1843.6,618.3 L1847.0,619.3 L1850.4,620.2 L1853.8,621.2 L1857.2,622.1 L1860.7,623.0 L1864.1,623.9 L1867.6,624.8 L1871.0,625.6 L1874.5,626.4 L1877.9,627.2 L1881.4,628.0 L1884.8,628.8 L1888.3,629.6 L1891.8,630.3 L1895.3,631.0 L1898.8,631.7 L1902.2,632.4 L1905.7,633.1 L1909.2,633.8 L1912.7,634.4 L1916.2,635.0 L1919.7,635.6 L1923.2,636.2 L1926.7,636.8 L1930.2,637.4 L1933.8,638.0 L1937.3,638.5 L1940.8,639.0 L1944.3,639.6 L1947.8,640.1 L1951.4,640.6 L1954.9,641.0 L1958.4,641.5 L1962.0,642.0 L1965.5,642.4 L1969.0,642.8 L1972.6,643.3 L1976.1,643.7 L1979.7,644.1 L1983.2,644.5 L1986.8,644.9 L1990.3,645.2 L1993.9,645.6 L1997.4,646.0 L2001.0,646.3 L2004.5,646.7 L2008.1,647.0 L2011.6,647.3 L2015.2,647.6 L2018.8,647.9 L2022.3,648.2 L2025.9,648.5 L2029.4,648.8 L2033.0,649.1 L2036.6,649.4 L2040.1,649.7 L2043.7,649.9 L2047.2,650.2 L2050.8,650.5 L2054.4,650.7 L2057.9,651.0 L2061.5,651.2 L2065.0,651.5 L2068.6,651.7 L2072.2,651.9 L2075.7,652.2 L2079.3,652.4 L2082.8,652.6 L2086.4,652.9 L2090.0,653.1 L2093.5,653.3 L2097.1,653.5 L2100.6,653.7 L2104.2,653.9 L2107.7,654.1 L2111.3,654.3 L2114.9,654.5 L2118.4,654.7 L2122.0,654.9 L2125.5,655.1 L2129.1,655.3 L2132.6,655.5 L2136.2,655.7 L2139.7,655.8 L2143.3,656.0 L2146.9,656.2 L2150.4,656.4 L2154.0,656.5 L2157.5,656.7 L2161.1,656.9 L2164.6,657.0 L2168.2,657.2 L2171.7,657.3 L2175.3,657.5 L2178.8,657.6 L2182.4,657.8 L2186.0,657.9 L2189.5,658.1 L2193.1,658.2 L2196.6,658.3 L2200.2,658.5 L2203.7,658.6 L2207.3,658.7 L2210.8,658.8 L2214.4,659.0 L2217.9,659.1 L2221.5,659.2 L2225.1,659.3 L2228.6,659.4 L2232.2,659.5 L2235.7,659.6 L2239.3,659.7 L2242.8,659.8 L2246.4,659.9 L2249.9,660.0 L2253.5,660.1 L2257.1,660.2 L2260.6,660.3 L2264.2,660.4 L2267.7,660.5 L2271.3,660.6 L2274.9,660.6 L2278.4,660.7 L2282.0,660.8 L2285.5,660.9 L2289.1,661.0 L2292.7,661.0 L2296.2,661.1 L2299.8,661.2 L2303.3,661.2 L2306.9,661.3 L2310.5,661.3 L2314.0,661.4 L2317.6,661.5 L2321.2,661.5 L2324.7,661.6 L2328.3,661.6 L2331.9,661.7 L2335.4,661.7 L2339.0,661.7 L2342.6,661.8 L2346.1,661.8 L2349.7,661.9 L2353.3,661.9 L2356.9,661.9 L2360.4,662.0 L2364.0,662.0" fill="none" stroke="#000" stroke-width="6.8" stroke-linejoin="round"/>
<path d="M231.3,1166.1 L239.6,1166.4 M271.0,1161.0 L278.7,1158.0 M305.5,1141.3 L311.8,1135.7 M332.5,1112.3 L337.5,1105.3 M353.3,1077.8 L357.0,1070.2 M369.9,1041.6 L373.5,1033.9 M387.8,1005.8 L391.6,998.2 M411.2,974.5 L418.2,969.4 M441.7,961.3 L450.1,962.4 M476.7,977.8 L483.1,983.5 M507.4,1008.9 L512.8,1015.4 M532.5,1041.4 L537.3,1048.3 M556.6,1076.6 L561.4,1083.6 M579.6,1109.9 L584.6,1116.8 M604.3,1143.9 L609.5,1150.7 M630.4,1177.4 L635.7,1183.9 M659.1,1211.0 L664.8,1217.3 M689.0,1242.4 L695.1,1248.4 M720.7,1271.7 L727.1,1277.2 M754.5,1299.1 L761.3,1304.2 M788.5,1323.1 L795.6,1327.7 M822.3,1343.9 L829.7,1348.0 M845.3,1356.4 L852.8,1360.2 M868.0,1367.6 L875.7,1371.1 M903.2,1383.0 L911.1,1386.2 M936.0,1395.5 L944.0,1398.3 M969.9,1406.9 L978.0,1409.5 M1004.0,1417.0 L1012.2,1419.3 M1036.8,1425.6 L1045.0,1427.7 M1070.9,1433.6 L1079.1,1435.4" fill="none" stroke="#000" stroke-width="5.6"/>
<path d="M231.3,1166.0 L232.5,1166.1 L233.7,1166.1 L234.8,1166.1 L236.0,1166.1 L237.2,1166.1 L238.4,1166.1 L239.5,1166.0 L240.7,1166.0 L241.9,1165.9 L243.0,1165.8 L244.2,1165.7 L245.3,1165.6 L246.5,1165.5 L247.7,1165.3 L248.8,1165.2 L250.0,1165.0 L251.1,1164.8 L252.2,1164.6 L253.4,1164.4 L254.5,1164.2 L255.6,1164.0 L256.8,1163.7 L257.9,1163.5 L259.0,1163.2 L259.8,1163.0 M287.2,1152.0 L288.2,1151.4 L289.2,1150.8 L290.2,1150.2 L291.2,1149.6 L292.2,1149.0 L293.1,1148.4 L294.1,1147.8 L295.1,1147.2 L296.1,1146.5 L297.0,1145.9 L298.0,1145.2 L299.0,1144.5 L299.9,1143.8 L300.9,1143.2 L301.8,1142.5 L302.7,1141.8 L303.7,1141.1 L304.6,1140.3 L305.5,1139.6 L306.4,1138.9 L307.3,1138.1 L308.2,1137.4 L309.1,1136.6 L310.0,1135.9 L310.3,1135.6 M330.8,1114.1 L331.5,1113.1 L332.2,1112.2 L332.9,1111.3 L333.6,1110.3 L334.3,1109.4 L335.0,1108.5 L335.7,1107.5 L336.3,1106.6 L337.0,1105.6 L337.7,1104.7 L338.3,1103.7 L338.9,1102.7 L339.6,1101.8 L340.2,1100.8 L340.8,1099.8 L341.4,1098.8 L342.0,1097.8 L342.6,1096.9 L343.2,1095.9 L343.8,1094.9 L344.4,1093.9 L344.9,1092.9 L345.5,1091.9 L346.1,1090.9 L346.1,1090.9 M359.2,1063.3 L359.7,1062.2 L360.1,1061.1 L360.6,1060.1 L361.0,1059.0 L361.5,1057.9 L361.9,1056.9 L362.4,1055.8 L362.8,1054.7 L363.2,1053.7 L363.7,1052.6 L364.1,1051.5 L364.5,1050.5 L365.0,1049.4 L365.4,1048.3 L365.9,1047.3 L366.3,1046.2 L366.7,1045.1 L367.2,1044.0 L367.6,1043.0 L368.0,1041.9 L368.5,1040.8 L368.9,1039.7 L369.4,1038.7 L369.5,1038.3 M382.1,1010.2 L382.6,1009.1 L383.1,1008.0 L383.7,1007.0 L384.2,1005.9 L384.8,1004.9 L385.3,1003.8 L385.9,1002.8 L386.5,1001.8 L387.0,1000.7 L387.6,999.7 L388.2,998.6 L388.8,997.6 L389.4,996.6 L390.0,995.5 L390.6,994.5 L391.3,993.5 L391.9,992.4 L392.5,991.4 L393.2,990.4 L393.8,989.4 L394.5,988.4 L395.2,987.4 L395.9,986.3 L395.9,986.3 M446.7,951.9 L447.8,951.9 L448.8,952.0 L449.9,952.0 L450.9,952.1 L452.0,952.3 L453.0,952.4 L454.1,952.6 L455.1,952.8 L456.2,953.1 L457.2,953.3 L458.2,953.6 L459.3,953.9 L460.3,954.2 L461.3,954.6 L462.4,954.9 L463.4,955.3 L464.4,955.7 L465.4,956.2 L466.4,956.6 L467.5,957.1 L468.5,957.6 L469.5,958.1 L470.5,958.6 L471.5,959.1 L471.5,959.1 M500.7,982.5 L501.6,983.3 L502.4,984.2 L503.2,985.1 L504.1,985.9 L504.9,986.8 L505.7,987.7 L506.5,988.6 L507.3,989.5 L508.2,990.3 L508.9,991.2 L509.7,992.1 L510.5,993.0 L511.3,993.9 L512.1,994.8 L512.9,995.7 L513.6,996.6 L514.4,997.5 L515.2,998.4 L515.9,999.3 L516.7,1000.2 L517.4,1001.1 L518.2,1002.0 L518.9,1002.9 L519.6,1003.8 L520.3,1004.7 L521.1,1005.6 L521.3,1005.9 M544.5,1038.5 L545.2,1039.4 L545.8,1040.4 L546.4,1041.3 L547.1,1042.3 L547.7,1043.2 L548.3,1044.2 L548.9,1045.2 L549.6,1046.1 L550.2,1047.1 L550.8,1048.0 L551.5,1049.0 L552.1,1050.0 L552.7,1050.9 L553.3,1051.9 L554.0,1052.9 L554.6,1053.8 L555.2,1054.8 L555.9,1055.7 L556.5,1056.7 L557.1,1057.7 L557.8,1058.6 L558.4,1059.6 L559.0,1060.6 L559.6,1061.5 L560.3,1062.5 L560.9,1063.5 L561.5,1064.4 L562.2,1065.4 L562.8,1066.4 L563.4,1067.3 L564.1,1068.3 L564.7,1069.3 L565.3,1070.2 L565.3,1070.2 M583.6,1097.6 L584.2,1098.6 L584.9,1099.6 L585.5,1100.5 L586.2,1101.5 L586.8,1102.5 L587.5,1103.4 L588.2,1104.4 L588.8,1105.4 L589.5,1106.3 L590.1,1107.3 L590.8,1108.2 L591.5,1109.2 L592.1,1110.2 L592.8,1111.1 L593.4,1112.1 L594.1,1113.0 L594.8,1114.0 L595.4,1115.0 L596.1,1115.9 L596.8,1116.9 L597.4,1117.8 L598.1,1118.8 L598.8,1119.8 L599.4,1120.7 L600.1,1121.7 L600.8,1122.6 L601.5,1123.6 L602.1,1124.5 L602.8,1125.5 L603.5,1126.4 L603.5,1126.4 M625.6,1156.6 L626.3,1157.5 L627.0,1158.5 L627.7,1159.4 L628.5,1160.3 L629.2,1161.2 L629.9,1162.2 L630.6,1163.1 L631.3,1164.0 L632.0,1164.9 L632.8,1165.9 L633.5,1166.8 L634.2,1167.7 L634.9,1168.6 L635.6,1169.5 L636.4,1170.4 L637.1,1171.4 L637.8,1172.3 L638.6,1173.2 L639.3,1174.1 L640.0,1175.0 L640.8,1175.9 L641.5,1176.8 L642.2,1177.7 L643.0,1178.6 L643.7,1179.5 L644.4,1180.4 L645.2,1181.3 L645.4,1181.6 M669.7,1209.5 L670.4,1210.3 L671.2,1211.2 L672.0,1212.0 L672.8,1212.9 L673.6,1213.7 L674.4,1214.6 L675.2,1215.4 L676.0,1216.3 L676.8,1217.1 L677.6,1217.9 L678.4,1218.8 L679.2,1219.6 L680.0,1220.5 L680.8,1221.3 L681.6,1222.1 L682.5,1223.0 L683.3,1223.8 L684.1,1224.6 L684.9,1225.4 L685.7,1226.3 L686.5,1227.1 L687.3,1227.9 L688.2,1228.7 L689.0,1229.6 L689.8,1230.4 L690.6,1231.2 L691.5,1232.0 L691.5,1232.0 M720.7,1259.1 L721.5,1259.9 L722.4,1260.6 L723.3,1261.4 L724.2,1262.2 L725.0,1262.9 L725.9,1263.7 L726.8,1264.4 L727.7,1265.2 L728.6,1265.9 L729.4,1266.7 L730.3,1267.4 L731.2,1268.2 L732.1,1268.9 L733.0,1269.7 L733.9,1270.4 L734.8,1271.1 L735.7,1271.9 L736.6,1272.6 L737.5,1273.3 L738.4,1274.1 L739.3,1274.8 L740.2,1275.5 L741.1,1276.3 L742.0,1277.0 L742.9,1277.7 L743.8,1278.5 L744.7,1279.2 L745.6,1279.9 L746.5,1280.6 L747.4,1281.3 L747.4,1281.3 M776.5,1303.1 L777.4,1303.8 L778.4,1304.4 L779.3,1305.1 L780.3,1305.8 L781.2,1306.4 L782.2,1307.1 L783.2,1307.8 L784.1,1308.4 L785.1,1309.1 L786.0,1309.7 L787.0,1310.4 L787.9,1311.0 L788.9,1311.7 L789.9,1312.3 L790.8,1313.0 L791.8,1313.6 L792.7,1314.3 L793.7,1314.9 L794.7,1315.6 L795.6,1316.2 L796.6,1316.8 L797.6,1317.5 L798.6,1318.1 L799.5,1318.8 L800.5,1319.4 L801.5,1320.0 L802.4,1320.6 L803.4,1321.3 L804.4,1321.9 L805.4,1322.5 L805.4,1322.5 M832.8,1339.2 L833.8,1339.8 L834.8,1340.4 L835.8,1341.0 L836.8,1341.6 L837.9,1342.1 L838.9,1342.7 L839.9,1343.3 L840.9,1343.8 L841.9,1344.4 L842.9,1345.0 L843.9,1345.5 L844.9,1346.1 L846.0,1346.7 L847.0,1347.2 L848.0,1347.8 L849.0,1348.4 L850.0,1348.9 L851.1,1349.5 L852.1,1350.0 L853.1,1350.6 L854.1,1351.1 L855.1,1351.7 L856.2,1352.2 L857.2,1352.8 L858.2,1353.3 L859.3,1353.9 L860.3,1354.4 L861.3,1354.9 L861.3,1354.9 M890.8,1369.6 L891.9,1370.1 L892.9,1370.6 L894.0,1371.1 L895.0,1371.6 L896.1,1372.1 L897.1,1372.6 L898.2,1373.1 L899.3,1373.5 L900.3,1374.0 L901.4,1374.5 L902.4,1375.0 L903.5,1375.5 L904.6,1375.9 L905.6,1376.4 L906.7,1376.9 L907.7,1377.4 L908.8,1377.8 L909.9,1378.3 L910.9,1378.8 L912.0,1379.2 L913.1,1379.7 L914.1,1380.2 L915.2,1380.6 L916.3,1381.1 L917.4,1381.5 L918.4,1382.0 L919.5,1382.5 L919.5,1382.5 M944.7,1392.6 L945.8,1393.1 L946.9,1393.5 L947.9,1393.9 L949.0,1394.3 L950.1,1394.7 L951.2,1395.1 L952.3,1395.5 L953.4,1395.9 L954.5,1396.3 L955.6,1396.8 L956.7,1397.2 L957.8,1397.6 L958.9,1398.0 L960.0,1398.4 L961.0,1398.7 L962.1,1399.1 L963.2,1399.5 L964.3,1399.9 L965.4,1400.3 L966.5,1400.7 L967.6,1401.1 L968.7,1401.5 L969.8,1401.9 L970.9,1402.2 L972.0,1402.6 L973.1,1403.0 L974.2,1403.4 L975.3,1403.8 L975.3,1403.8 M1002.7,1412.5 L1003.8,1412.9 L1004.9,1413.2 L1006.0,1413.5 L1007.1,1413.9 L1008.3,1414.2 L1009.4,1414.5 L1010.5,1414.9 L1011.6,1415.2 L1012.7,1415.5 L1013.8,1415.8 L1015.0,1416.1 L1016.1,1416.5 L1017.2,1416.8 L1018.3,1417.1 L1019.4,1417.4 L1020.6,1417.7 L1021.7,1418.0 L1022.8,1418.3 L1023.9,1418.7 L1025.0,1419.0 L1026.2,1419.3 L1027.3,1419.6 L1028.4,1419.9 L1029.5,1420.2 L1030.7,1420.5 L1031.4,1420.7 M1060.8,1427.9 L1061.9,1428.1 L1063.0,1428.4 L1064.2,1428.6 L1065.3,1428.9 L1066.4,1429.1 L1067.6,1429.4 L1068.7,1429.6 L1069.8,1429.9 L1071.0,1430.1 L1072.1,1430.3 L1073.2,1430.6 L1074.4,1430.8 L1075.5,1431.1 L1076.7,1431.3 L1077.8,1431.5 L1078.9,1431.8 L1080.1,1432.0 L1081.2,1432.2 L1082.3,1432.4 L1083.5,1432.7 L1084.6,1432.9 L1085.8,1433.1 L1086.9,1433.3 L1088.0,1433.6 L1089.2,1433.8 L1089.2,1433.8" fill="none" stroke="#000" stroke-width="5.6"/>
<path d="M230.5,1166.0 L233.5,1166.1 L236.6,1166.0 L239.6,1165.9 L242.6,1165.7 L245.5,1165.4 L248.5,1165.0 L251.4,1164.6 L254.3,1164.0 L257.2,1163.4 L260.0,1162.7 L262.8,1161.9 L265.6,1161.1 L268.4,1160.1 L271.1,1159.1 L273.8,1158.0 L276.5,1156.9 L279.2,1155.7 L281.8,1154.4 L284.4,1153.1 L287.0,1151.7 L289.5,1150.2 L292.0,1148.7 L294.4,1147.1 L296.9,1145.5 L299.3,1143.8 L301.6,1142.0 L304.0,1140.2 L306.3,1138.4 L308.5,1136.5 L310.7,1134.6 L312.9,1132.6 L315.0,1130.6 L317.1,1128.5 L319.2,1126.4 L321.2,1124.2 L323.2,1122.0 L325.1,1119.8 L327.0,1117.6 L328.9,1115.3 L330.7,1113.0 L332.4,1110.6 L334.1,1108.3 L335.8,1105.9 L337.4,1103.4 L339.0,1101.0 L340.6,1098.5 L342.1,1096.0 L343.6,1093.5 L345.0,1091.0 L346.5,1088.4 L347.8,1085.9 L349.2,1083.3 L350.5,1080.7 L351.9,1078.1 L353.1,1075.4 L354.4,1072.8 L355.7,1070.1 L356.9,1067.5 L358.1,1064.8 L359.3,1062.1 L360.5,1059.4 L361.7,1056.7 L362.9,1054.0 L364.0,1051.3 L365.2,1048.6 L366.4,1045.8 L367.5,1043.1 L368.7,1040.4 L369.9,1037.7 L371.0,1034.9 L372.2,1032.2 L373.4,1029.5 L374.6,1026.8 L375.8,1024.1 L377.0,1021.4 L378.2,1018.7 L379.5,1016.0 L380.8,1013.3 L382.1,1010.7 L383.4,1008.0 L384.7,1005.4 L386.1,1002.7 L387.5,1000.1 L388.9,997.5 L390.3,994.9 L391.8,992.3 L393.3,989.8 L394.9,987.3 L396.5,984.7 L398.1,982.3 L399.8,979.8 L401.5,977.3 L403.3,974.9 L405.1,972.5 L406.9,970.2 L408.9,967.8 L410.8,965.6 L412.8,963.3 L414.9,961.2 L417.0,959.1 L419.1,957.2 L421.3,955.3 L423.6,953.5 L425.9,951.9 L428.3,950.4 L430.7,949.0 L433.2,947.7 L435.7,946.7 L438.3,945.7 L440.9,945.0 L443.6,944.5 L446.3,944.1 L449.1,943.9 L451.9,943.9 L454.7,944.1 L457.6,944.4 L460.4,944.9 L463.3,945.5 L466.1,946.2 L468.9,947.1 L471.7,948.2 L474.5,949.3 L477.2,950.6 L479.8,952.0 L482.4,953.4 L485.0,955.0 L487.4,956.7 L489.8,958.4 L492.1,960.3 L494.4,962.2 L496.6,964.2 L498.7,966.2 L500.8,968.3 L502.8,970.5 L504.8,972.7 L506.8,975.0 L508.7,977.3 L510.6,979.7 L512.4,982.0 L514.2,984.4 L516.0,986.9 L517.8,989.3 L519.5,991.8 L521.2,994.2 L522.9,996.7 L524.6,999.2 L526.3,1001.6 L528.0,1004.1 L529.6,1006.5 L531.3,1008.9 L533.0,1011.4 L534.6,1013.8 L536.3,1016.2 L538.0,1018.6 L539.6,1021.0 L541.3,1023.3 L542.9,1025.7 L544.6,1028.1 L546.2,1030.5 L547.9,1032.8 L549.5,1035.2 L551.2,1037.6 L552.8,1040.0 L554.5,1042.4 L556.2,1044.7 L557.8,1047.1 L559.5,1049.5 L561.1,1051.9 L562.8,1054.3 L564.5,1056.7 L566.1,1059.1 L567.8,1061.5 L569.5,1063.9 L571.2,1066.3 L572.8,1068.7 L574.5,1071.0 L576.2,1073.4 L577.9,1075.8 L579.6,1078.2 L581.3,1080.6 L583.0,1083.0 L584.7,1085.4 L586.4,1087.8 L588.1,1090.2 L589.8,1092.6 L591.5,1095.0 L593.2,1097.4 L594.9,1099.8 L596.6,1102.2 L598.3,1104.6 L600.1,1107.0 L601.8,1109.4 L603.5,1111.8 L605.2,1114.2 L607.0,1116.6 L608.7,1119.0 L610.5,1121.3 L612.2,1123.7 L614.0,1126.1 L615.7,1128.5 L617.5,1130.9 L619.3,1133.2 L621.0,1135.6 L622.8,1138.0 L624.6,1140.3 L626.4,1142.7 L628.1,1145.0 L629.9,1147.4 L631.7,1149.8 L633.5,1152.1 L635.3,1154.4 L637.1,1156.8 L639.0,1159.1 L640.8,1161.5 L642.6,1163.8 L644.4,1166.1 L646.3,1168.4 L648.1,1170.7 L650.0,1173.1 L651.8,1175.4 L653.7,1177.7 L655.5,1180.0 L657.4,1182.3 L659.3,1184.5 L661.2,1186.8 L663.0,1189.1 L664.9,1191.4 L666.8,1193.6 L668.7,1195.9 L670.6,1198.1 L672.5,1200.4 L674.5,1202.6 L676.4,1204.9 L678.3,1207.1 L680.3,1209.3 L682.2,1211.5 L684.2,1213.7 L686.1,1215.9 L688.1,1218.1 L690.1,1220.3 L692.1,1222.5 L694.0,1224.7 L696.0,1226.8 L698.0,1229.0 L700.0,1231.1 L702.1,1233.3 L704.1,1235.4 L706.1,1237.5 L708.1,1239.6 L710.2,1241.8 L712.2,1243.9 L714.3,1245.9 L716.4,1248.0 L718.4,1250.1 L720.5,1252.2 L722.6,1254.2 L724.7,1256.3 L726.8,1258.3 L728.9,1260.3 L731.1,1262.3 L733.2,1264.4 L735.3,1266.4 L737.5,1268.3 L739.6,1270.3 L741.8,1272.3 L744.0,1274.2 L746.1,1276.2 L748.3,1278.1 L750.5,1280.0 L752.7,1282.0 L755.0,1283.9 L757.2,1285.8 L759.4,1287.6 L761.7,1289.5 L763.9,1291.4 L766.2,1293.2 L768.4,1295.0 L770.7,1296.9 L773.0,1298.7 L775.3,1300.5 L777.6,1302.3 L779.9,1304.0 L782.3,1305.8 L784.6,1307.5 L787.0,1309.3 L789.3,1311.0 L791.7,1312.7 L794.1,1314.4 L796.5,1316.1 L798.9,1317.8 L801.3,1319.4 L803.7,1321.1 L806.1,1322.7 L808.5,1324.3 L811.0,1325.9 L813.5,1327.5 L815.9,1329.1 L818.4,1330.6 L820.9,1332.2 L823.4,1333.7 L825.9,1335.2 L828.4,1336.7 L831.0,1338.2 L833.5,1339.7 L836.1,1341.2 L838.6,1342.6 L841.2,1344.1 L843.8,1345.5 L846.4,1346.9 L849.0,1348.3 L851.6,1349.7 L854.2,1351.1 L856.8,1352.4 L859.4,1353.8 L862.0,1355.1 L864.7,1356.4 L867.3,1357.8 L870.0,1359.1 L872.6,1360.4 L875.3,1361.6 L878.0,1362.9 L880.7,1364.2 L883.4,1365.4 L886.0,1366.6 L888.7,1367.9 L891.4,1369.1 L894.1,1370.3 L896.9,1371.5 L899.6,1372.7 L902.3,1373.8 L905.0,1375.0 L907.7,1376.2 L910.5,1377.3 L913.2,1378.4 L916.0,1379.6 L918.7,1380.7 L921.4,1381.8 L924.2,1382.9 L926.9,1384.0 L929.7,1385.1 L932.4,1386.1 L935.2,1387.2 L938.0,1388.3 L940.7,1389.3 L943.5,1390.4 L946.3,1391.4 L949.0,1392.4 L951.8,1393.4 L954.5,1394.4 L957.3,1395.4 L960.1,1396.4 L962.9,1397.4 L965.6,1398.4 L968.4,1399.4 L971.2,1400.3 L973.9,1401.3 L976.7,1402.3 L979.5,1403.2 L982.3,1404.1 L985.0,1405.0 L987.8,1406.0 L990.6,1406.9 L993.4,1407.8 L996.2,1408.6 L998.9,1409.5 L1001.7,1410.4 L1004.5,1411.2 L1007.3,1412.1 L1010.1,1412.9 L1012.9,1413.7 L1015.7,1414.5 L1018.5,1415.3 L1021.3,1416.1 L1024.2,1416.9 L1027.0,1417.7 L1029.8,1418.4 L1032.6,1419.2 L1035.4,1419.9 L1038.3,1420.6 L1041.1,1421.3 L1044.0,1422.0 L1046.8,1422.7 L1049.6,1423.3 L1052.5,1424.0 L1055.4,1424.6 L1058.2,1425.2 L1061.1,1425.9 L1064.0,1426.5 L1066.9,1427.0 L1069.7,1427.6 L1072.6,1428.2 L1075.5,1428.7 L1078.4,1429.2 L1081.4,1429.7 L1084.3,1430.2 L1087.2,1430.7 L1090.1,1431.1 L1093.1,1431.6 L1096.0,1432.0" fill="none" stroke="#000" stroke-width="5.6" stroke-linejoin="round"/>
<path d="M1497.0,1278.0 L1502.4,1278.0 M1527.5,1277.2 L1536.2,1276.8 M1561.9,1274.8 L1570.3,1273.9 M1595.8,1270.4 L1604.1,1269.0 M1630.0,1263.5 L1638.1,1261.4 M1663.8,1253.5 L1672.1,1250.4 M1697.9,1239.7 L1706.0,1236.0 M1732.0,1223.1 L1739.7,1219.0 M1766.2,1204.7 L1773.6,1200.6 M1800.3,1186.6 L1807.9,1182.9 M1833.7,1172.5 L1842.3,1169.9 M1867.6,1165.1 L1876.4,1164.5 M1901.6,1165.7 L1910.4,1167.0 M1936.1,1173.5 L1944.1,1176.1 M1971.1,1187.1 L1978.7,1190.7 M2004.2,1204.0 L2012.0,1208.5 M2038.4,1224.9 L2045.8,1229.9 M2072.4,1248.6 L2079.4,1253.7 M2101.8,1270.5 L2108.4,1275.5 M2135.6,1296.2 L2142.3,1301.2 M2169.5,1321.2 L2176.3,1326.1 M2203.2,1344.3 L2210.7,1349.2 M2237.1,1365.8 L2244.8,1370.4 M2270.5,1385.6 L2277.8,1389.8 M2305.2,1405.3 L2312.8,1409.5 M2339.1,1423.7 L2347.0,1428.0" fill="none" stroke="#000" stroke-width="5.6"/>
<path d="M1497.0,1278.0 L1497.9,1278.0 L1498.9,1278.0 L1499.8,1277.9 L1500.8,1277.9 L1501.7,1277.9 L1502.7,1277.9 L1503.6,1277.8 L1504.6,1277.8 L1505.5,1277.8 L1506.5,1277.8 L1507.4,1277.7 L1508.4,1277.7 L1509.3,1277.7 L1510.3,1277.6 L1511.2,1277.6 L1512.2,1277.5 L1513.1,1277.5 L1514.1,1277.5 L1515.1,1277.4 L1516.0,1277.4 L1517.0,1277.3 L1517.9,1277.3 L1518.9,1277.3 L1519.8,1277.2 L1520.5,1277.2 M1550.6,1275.0 L1551.5,1274.9 L1552.5,1274.8 L1553.5,1274.7 L1554.5,1274.6 L1555.4,1274.5 L1556.4,1274.4 L1557.4,1274.3 L1558.4,1274.2 L1559.3,1274.1 L1560.3,1274.0 L1561.3,1273.9 L1562.3,1273.8 L1563.2,1273.7 L1564.2,1273.6 L1565.2,1273.5 L1566.2,1273.3 L1567.2,1273.2 L1568.1,1273.1 L1569.1,1273.0 L1570.1,1272.9 L1571.1,1272.7 L1572.0,1272.6 L1573.0,1272.5 L1574.0,1272.4 L1575.0,1272.2 L1575.9,1272.1 L1576.9,1272.0 L1577.2,1271.9 M1607.7,1266.7 L1608.6,1266.5 L1609.6,1266.3 L1610.6,1266.1 L1611.5,1265.9 L1612.5,1265.7 L1613.5,1265.5 L1614.4,1265.3 L1615.4,1265.1 L1616.3,1264.9 L1617.3,1264.7 L1618.2,1264.5 L1619.2,1264.2 L1620.2,1264.0 L1621.1,1263.8 L1622.1,1263.6 L1623.0,1263.4 L1624.0,1263.1 L1624.9,1262.9 L1625.9,1262.7 L1626.8,1262.4 L1627.8,1262.2 L1628.7,1261.9 L1629.7,1261.7 L1630.6,1261.5 L1631.6,1261.2 L1632.5,1261.0 L1633.5,1260.7 L1634.4,1260.5 L1634.4,1260.5 M1664.5,1250.9 L1665.5,1250.6 L1666.4,1250.3 L1667.3,1249.9 L1668.2,1249.6 L1669.0,1249.3 L1669.9,1248.9 L1670.8,1248.6 L1671.7,1248.2 L1672.6,1247.9 L1673.5,1247.5 L1674.4,1247.2 L1675.3,1246.8 L1676.2,1246.5 L1677.1,1246.1 L1678.0,1245.7 L1678.8,1245.4 L1679.7,1245.0 L1680.6,1244.6 L1681.5,1244.3 L1682.4,1243.9 L1683.3,1243.5 L1684.1,1243.2 L1685.0,1242.8 L1685.9,1242.4 L1686.8,1242.0 L1687.7,1241.6 L1688.5,1241.3 L1689.4,1240.9 L1690.3,1240.5 L1691.1,1240.1 L1691.4,1240.0 M1721.5,1225.2 L1722.4,1224.8 L1723.2,1224.3 L1724.1,1223.9 L1724.9,1223.4 L1725.8,1223.0 L1726.6,1222.5 L1727.5,1222.1 L1728.3,1221.6 L1729.2,1221.2 L1730.0,1220.7 L1730.9,1220.3 L1731.7,1219.8 L1732.6,1219.3 L1733.4,1218.9 L1734.3,1218.4 L1735.1,1217.9 L1736.0,1217.5 L1736.8,1217.0 L1737.7,1216.5 L1738.5,1216.1 L1739.4,1215.6 L1740.2,1215.1 L1741.1,1214.7 L1741.9,1214.2 L1742.7,1213.7 L1743.6,1213.2 L1744.4,1212.8 L1745.3,1212.3 L1746.1,1211.8 L1747.0,1211.3 L1747.8,1210.9 L1748.4,1210.5 M1778.7,1193.1 L1779.5,1192.6 L1780.4,1192.1 L1781.3,1191.6 L1782.1,1191.1 L1783.0,1190.6 L1783.8,1190.1 L1784.7,1189.6 L1785.5,1189.1 L1786.4,1188.6 L1787.3,1188.1 L1788.1,1187.6 L1789.0,1187.1 L1789.9,1186.6 L1790.7,1186.1 L1791.6,1185.6 L1792.4,1185.1 L1793.3,1184.6 L1794.2,1184.1 L1795.0,1183.6 L1795.9,1183.1 L1796.8,1182.7 L1797.6,1182.2 L1798.5,1181.7 L1799.4,1181.2 L1800.2,1180.7 L1801.1,1180.2 L1802.0,1179.8 L1802.8,1179.3 L1803.7,1178.8 L1804.6,1178.3 L1805.5,1177.8 L1805.5,1177.8 M1836.7,1162.6 L1837.6,1162.3 L1838.5,1161.9 L1839.4,1161.5 L1840.3,1161.2 L1841.2,1160.8 L1842.1,1160.5 L1843.0,1160.1 L1843.9,1159.8 L1844.8,1159.4 L1845.7,1159.1 L1846.6,1158.8 L1847.5,1158.4 L1848.4,1158.1 L1849.3,1157.8 L1850.2,1157.5 L1851.1,1157.2 L1852.0,1156.9 L1852.9,1156.6 L1853.8,1156.3 L1854.7,1156.0 L1855.6,1155.7 L1856.5,1155.4 L1857.5,1155.2 L1858.4,1154.9 L1859.3,1154.6 L1860.2,1154.4 L1861.1,1154.1 L1861.4,1154.1 M1892.8,1149.2 L1893.7,1149.2 L1894.6,1149.2 L1895.6,1149.2 L1896.5,1149.2 L1897.5,1149.2 L1898.4,1149.2 L1899.4,1149.2 L1900.3,1149.2 L1901.3,1149.3 L1902.3,1149.3 L1903.2,1149.4 L1904.2,1149.4 L1905.1,1149.5 L1906.1,1149.5 L1907.0,1149.6 L1908.0,1149.7 L1908.9,1149.8 L1909.9,1149.9 L1910.8,1150.0 L1911.8,1150.1 L1912.8,1150.2 L1913.7,1150.3 L1914.7,1150.4 L1915.6,1150.5 L1916.6,1150.7 L1917.6,1150.8 L1918.5,1151.0 L1919.5,1151.1 L1919.5,1151.1 M1949.7,1158.7 L1950.6,1159.0 L1951.5,1159.4 L1952.5,1159.7 L1953.4,1160.0 L1954.4,1160.3 L1955.3,1160.7 L1956.2,1161.0 L1957.2,1161.4 L1958.1,1161.7 L1959.0,1162.1 L1960.0,1162.4 L1960.9,1162.8 L1961.8,1163.1 L1962.7,1163.5 L1963.7,1163.9 L1964.6,1164.2 L1965.5,1164.6 L1966.4,1165.0 L1967.3,1165.4 L1968.3,1165.7 L1969.2,1166.1 L1970.1,1166.5 L1971.0,1166.9 L1971.9,1167.3 L1972.8,1167.7 L1973.7,1168.1 L1974.6,1168.5 L1975.5,1168.9 L1976.4,1169.3 L1976.4,1169.3 M2005.7,1184.4 L2006.6,1184.9 L2007.4,1185.4 L2008.2,1185.9 L2009.1,1186.4 L2009.9,1186.9 L2010.8,1187.4 L2011.6,1187.8 L2012.4,1188.3 L2013.2,1188.8 L2014.1,1189.3 L2014.9,1189.8 L2015.7,1190.4 L2016.6,1190.9 L2017.4,1191.4 L2018.2,1191.9 L2019.0,1192.4 L2019.9,1192.9 L2020.7,1193.4 L2021.5,1193.9 L2022.3,1194.4 L2023.1,1195.0 L2023.9,1195.5 L2024.8,1196.0 L2025.6,1196.5 L2026.4,1197.0 L2027.2,1197.6 L2028.0,1198.1 L2028.8,1198.6 L2029.6,1199.2 L2030.4,1199.7 L2031.2,1200.2 L2032.0,1200.8 L2032.3,1200.9 M2062.6,1222.2 L2063.4,1222.8 L2064.1,1223.3 L2064.9,1223.9 L2065.7,1224.5 L2066.5,1225.1 L2067.3,1225.6 L2068.0,1226.2 L2068.8,1226.8 L2069.6,1227.4 L2070.4,1227.9 L2071.1,1228.5 L2071.9,1229.1 L2072.7,1229.7 L2073.5,1230.2 L2074.3,1230.8 L2075.0,1231.4 L2075.8,1232.0 L2076.6,1232.5 L2077.4,1233.1 L2078.1,1233.7 L2078.9,1234.3 L2079.7,1234.9 L2080.5,1235.4 L2081.2,1236.0 L2082.0,1236.6 L2082.8,1237.2 L2083.6,1237.8 L2084.3,1238.3 L2085.1,1238.9 L2085.9,1239.5 L2086.7,1240.1 L2087.4,1240.7 L2088.2,1241.2 L2088.5,1241.4 M2101.7,1251.3 L2102.5,1251.9 L2103.3,1252.4 L2104.0,1253.0 L2104.8,1253.6 L2105.6,1254.2 L2106.4,1254.8 L2107.2,1255.3 L2107.9,1255.9 L2108.7,1256.5 L2109.5,1257.1 L2110.3,1257.7 L2111.1,1258.2 L2111.9,1258.8 L2112.6,1259.4 L2113.4,1260.0 L2114.2,1260.6 L2115.0,1261.1 L2115.8,1261.7 L2116.5,1262.3 L2117.3,1262.9 L2118.1,1263.4 L2118.9,1264.0 L2119.7,1264.6 L2120.5,1265.2 L2121.2,1265.8 L2122.0,1266.3 L2122.8,1266.9 L2123.6,1267.5 L2124.4,1268.1 L2125.2,1268.6 L2125.9,1269.2 L2126.7,1269.8 L2127.5,1270.4 L2128.3,1271.0 L2128.3,1271.0 M2158.7,1293.2 L2159.5,1293.8 L2160.3,1294.3 L2161.1,1294.9 L2161.8,1295.5 L2162.6,1296.0 L2163.4,1296.6 L2164.2,1297.2 L2165.0,1297.8 L2165.8,1298.3 L2166.6,1298.9 L2167.4,1299.5 L2168.2,1300.0 L2168.9,1300.6 L2169.7,1301.2 L2170.5,1301.8 L2171.3,1302.3 L2172.1,1302.9 L2172.9,1303.5 L2173.7,1304.0 L2174.5,1304.6 L2175.3,1305.2 L2176.0,1305.7 L2176.8,1306.3 L2177.6,1306.9 L2178.4,1307.5 L2179.2,1308.0 L2180.0,1308.6 L2180.8,1309.2 L2181.6,1309.7 L2182.4,1310.3 L2183.2,1310.9 L2183.9,1311.4 L2184.7,1312.0 L2185.3,1312.4 M2214.6,1333.2 L2215.4,1333.8 L2216.1,1334.3 L2216.9,1334.9 L2217.7,1335.4 L2218.5,1336.0 L2219.3,1336.5 L2220.1,1337.1 L2220.9,1337.6 L2221.7,1338.2 L2222.5,1338.7 L2223.3,1339.3 L2224.1,1339.9 L2224.9,1340.4 L2225.7,1341.0 L2226.5,1341.5 L2227.3,1342.1 L2228.1,1342.6 L2228.9,1343.2 L2229.7,1343.7 L2230.5,1344.2 L2231.3,1344.8 L2232.1,1345.3 L2232.9,1345.9 L2233.7,1346.4 L2234.5,1347.0 L2235.3,1347.5 L2236.1,1348.1 L2236.9,1348.6 L2237.7,1349.2 L2238.5,1349.7 L2239.3,1350.2 L2240.1,1350.8 L2240.9,1351.3 L2241.5,1351.7 M2271.6,1371.2 L2272.4,1371.7 L2273.2,1372.2 L2274.0,1372.7 L2274.9,1373.2 L2275.7,1373.8 L2276.5,1374.3 L2277.3,1374.8 L2278.2,1375.3 L2279.0,1375.8 L2279.8,1376.3 L2280.6,1376.8 L2281.5,1377.3 L2282.3,1377.8 L2283.1,1378.3 L2284.0,1378.8 L2284.8,1379.3 L2285.6,1379.8 L2286.5,1380.3 L2287.3,1380.8 L2288.1,1381.3 L2289.0,1381.8 L2289.8,1382.3 L2290.6,1382.8 L2291.5,1383.3 L2292.3,1383.8 L2293.1,1384.2 L2294.0,1384.7 L2294.8,1385.2 L2295.7,1385.7 L2296.5,1386.2 L2297.3,1386.7 L2297.3,1386.7 M2328.5,1404.0 L2329.4,1404.5 L2330.2,1405.0 L2331.1,1405.4 L2331.9,1405.9 L2332.8,1406.4 L2333.6,1406.8 L2334.5,1407.3 L2335.3,1407.8 L2336.2,1408.2 L2337.0,1408.7 L2337.9,1409.2 L2338.7,1409.7 L2339.6,1410.1 L2340.4,1410.6 L2341.3,1411.1 L2342.1,1411.5 L2343.0,1412.0 L2343.8,1412.5 L2344.7,1413.0 L2345.5,1413.4 L2346.4,1413.9 L2347.2,1414.4 L2348.0,1414.9 L2348.9,1415.4 L2349.7,1415.8 L2350.6,1416.3 L2351.4,1416.8 L2352.3,1417.3 L2353.1,1417.8 L2353.9,1418.3 L2354.8,1418.7 L2355.3,1419.1" fill="none" stroke="#000" stroke-width="5.6"/>
<path d="M1497.0,1278.0 L1499.5,1278.0 L1501.9,1278.0 L1504.4,1277.9 L1506.9,1277.9 L1509.3,1277.8 L1511.8,1277.8 L1514.3,1277.7 L1516.7,1277.6 L1519.2,1277.5 L1521.6,1277.4 L1524.1,1277.3 L1526.5,1277.1 L1529.0,1277.0 L1531.5,1276.9 L1533.9,1276.7 L1536.3,1276.5 L1538.8,1276.3 L1541.2,1276.2 L1543.7,1276.0 L1546.1,1275.7 L1548.5,1275.5 L1551.0,1275.3 L1553.4,1275.0 L1555.8,1274.8 L1558.3,1274.5 L1560.7,1274.2 L1563.1,1273.9 L1565.5,1273.6 L1567.9,1273.3 L1570.3,1273.0 L1572.8,1272.7 L1575.2,1272.3 L1577.6,1272.0 L1580.0,1271.6 L1582.4,1271.2 L1584.8,1270.8 L1587.2,1270.4 L1589.6,1270.0 L1592.0,1269.6 L1594.3,1269.2 L1596.7,1268.7 L1599.1,1268.3 L1601.5,1267.8 L1603.9,1267.3 L1606.2,1266.8 L1608.6,1266.3 L1611.0,1265.8 L1613.3,1265.3 L1615.7,1264.7 L1618.0,1264.2 L1620.4,1263.6 L1622.7,1263.0 L1625.1,1262.4 L1627.4,1261.8 L1629.8,1261.2 L1632.1,1260.6 L1634.4,1260.0 L1636.8,1259.3 L1639.1,1258.7 L1641.4,1258.0 L1643.7,1257.3 L1646.0,1256.6 L1648.4,1255.9 L1650.7,1255.2 L1653.0,1254.4 L1655.3,1253.7 L1657.6,1252.9 L1659.9,1252.2 L1662.1,1251.4 L1664.4,1250.6 L1666.7,1249.8 L1669.0,1248.9 L1671.3,1248.1 L1673.5,1247.2 L1675.8,1246.4 L1678.1,1245.5 L1680.3,1244.6 L1682.6,1243.7 L1684.8,1242.8 L1687.0,1241.9 L1689.3,1240.9 L1691.5,1240.0 L1693.8,1239.0 L1696.0,1238.0 L1698.2,1237.0 L1700.4,1236.0 L1702.6,1235.0 L1704.8,1234.0 L1707.0,1232.9 L1709.2,1231.9 L1711.4,1230.8 L1713.6,1229.7 L1715.8,1228.6 L1718.0,1227.5 L1720.2,1226.4 L1722.3,1225.2 L1724.5,1224.1 L1726.7,1222.9 L1728.8,1221.7 L1731.0,1220.5 L1733.1,1219.3 L1735.2,1218.1 L1737.4,1216.8 L1739.5,1215.6 L1741.6,1214.3 L1743.8,1213.1 L1745.9,1211.8 L1748.0,1210.5 L1750.1,1209.2 L1752.2,1207.8 L1754.3,1206.5 L1756.4,1205.2 L1758.5,1203.9 L1760.6,1202.5 L1762.7,1201.2 L1764.8,1199.8 L1766.9,1198.5 L1769.0,1197.1 L1771.1,1195.8 L1773.1,1194.4 L1775.2,1193.0 L1777.3,1191.7 L1779.4,1190.3 L1781.5,1189.0 L1783.6,1187.6 L1785.7,1186.3 L1787.8,1184.9 L1789.9,1183.6 L1792.0,1182.3 L1794.1,1181.0 L1796.2,1179.7 L1798.3,1178.3 L1800.4,1177.1 L1802.5,1175.8 L1804.6,1174.5 L1806.7,1173.2 L1808.8,1172.0 L1811.0,1170.8 L1813.1,1169.5 L1815.2,1168.3 L1817.4,1167.1 L1819.5,1166.0 L1821.7,1164.8 L1823.8,1163.7 L1826.0,1162.6 L1828.2,1161.5 L1830.3,1160.4 L1832.5,1159.3 L1834.7,1158.3 L1836.9,1157.3 L1839.1,1156.3 L1841.3,1155.3 L1843.6,1154.4 L1845.8,1153.5 L1848.0,1152.6 L1850.3,1151.8 L1852.6,1150.9 L1854.8,1150.1 L1857.1,1149.4 L1859.4,1148.6 L1861.7,1147.9 L1864.0,1147.2 L1866.3,1146.6 L1868.7,1146.0 L1871.0,1145.4 L1873.3,1144.9 L1875.7,1144.3 L1878.0,1143.9 L1880.4,1143.4 L1882.8,1143.0 L1885.1,1142.6 L1887.5,1142.3 L1889.9,1141.9 L1892.3,1141.7 L1894.7,1141.4 L1897.0,1141.2 L1899.4,1141.0 L1901.8,1140.9 L1904.2,1140.8 L1906.6,1140.7 L1909.0,1140.7 L1911.4,1140.7 L1913.8,1140.7 L1916.2,1140.8 L1918.6,1140.9 L1921.0,1141.0 L1923.3,1141.2 L1925.7,1141.4 L1928.1,1141.7 L1930.5,1142.0 L1932.8,1142.3 L1935.2,1142.7 L1937.6,1143.1 L1939.9,1143.6 L1942.3,1144.1 L1944.6,1144.6 L1946.9,1145.1 L1949.3,1145.7 L1951.6,1146.4 L1953.9,1147.1 L1956.2,1147.8 L1958.5,1148.5 L1960.8,1149.3 L1963.1,1150.1 L1965.4,1150.9 L1967.7,1151.8 L1969.9,1152.7 L1972.2,1153.6 L1974.4,1154.5 L1976.7,1155.5 L1978.9,1156.5 L1981.2,1157.5 L1983.4,1158.6 L1985.6,1159.6 L1987.8,1160.7 L1990.0,1161.8 L1992.2,1163.0 L1994.4,1164.1 L1996.6,1165.3 L1998.8,1166.5 L2001.0,1167.7 L2003.1,1168.9 L2005.3,1170.1 L2007.5,1171.4 L2009.6,1172.7 L2011.7,1173.9 L2013.9,1175.2 L2016.0,1176.5 L2018.1,1177.8 L2020.2,1179.2 L2022.3,1180.5 L2024.4,1181.8 L2026.5,1183.2 L2028.6,1184.5 L2030.7,1185.9 L2032.7,1187.3 L2034.8,1188.6 L2036.9,1190.0 L2038.9,1191.4 L2041.0,1192.8 L2043.0,1194.2 L2045.1,1195.6 L2047.1,1197.0 L2049.1,1198.4 L2051.2,1199.8 L2053.2,1201.2 L2055.2,1202.6 L2057.2,1204.0 L2059.2,1205.4 L2061.3,1206.8 L2063.3,1208.2 L2065.3,1209.6 L2067.3,1211.0 L2069.3,1212.5 L2071.3,1213.9 L2073.3,1215.3 L2075.3,1216.7 L2077.3,1218.1 L2079.3,1219.5 L2081.3,1220.9 L2083.3,1222.3 L2085.3,1223.8 L2087.2,1225.2 L2089.2,1226.6 L2091.2,1228.0 L2093.2,1229.4 L2095.2,1230.8 L2097.2,1232.2 L2099.1,1233.7 L2101.1,1235.1 L2103.1,1236.5 L2105.1,1237.9 L2107.0,1239.3 L2109.0,1240.7 L2111.0,1242.1 L2113.0,1243.6 L2114.9,1245.0 L2116.9,1246.4 L2118.9,1247.8 L2120.8,1249.2 L2122.8,1250.6 L2124.8,1252.1 L2126.7,1253.5 L2128.7,1254.9 L2130.7,1256.3 L2132.6,1257.7 L2134.6,1259.1 L2136.6,1260.6 L2138.5,1262.0 L2140.5,1263.4 L2142.5,1264.8 L2144.4,1266.2 L2146.4,1267.6 L2148.4,1269.1 L2150.3,1270.5 L2152.3,1271.9 L2154.2,1273.3 L2156.2,1274.7 L2158.2,1276.2 L2160.1,1277.6 L2162.1,1279.0 L2164.1,1280.4 L2166.0,1281.8 L2168.0,1283.2 L2170.0,1284.7 L2172.0,1286.1 L2173.9,1287.5 L2175.9,1288.9 L2177.9,1290.3 L2179.8,1291.8 L2181.8,1293.2 L2183.8,1294.6 L2185.8,1296.0 L2187.8,1297.4 L2189.7,1298.9 L2191.7,1300.3 L2193.7,1301.7 L2195.7,1303.1 L2197.7,1304.5 L2199.7,1306.0 L2201.6,1307.4 L2203.6,1308.8 L2205.6,1310.2 L2207.6,1311.6 L2209.6,1313.0 L2211.6,1314.4 L2213.6,1315.8 L2215.6,1317.3 L2217.6,1318.7 L2219.6,1320.1 L2221.6,1321.5 L2223.6,1322.9 L2225.6,1324.3 L2227.6,1325.7 L2229.6,1327.1 L2231.6,1328.5 L2233.6,1329.9 L2235.6,1331.3 L2237.6,1332.7 L2239.7,1334.1 L2241.7,1335.5 L2243.7,1336.8 L2245.7,1338.2 L2247.7,1339.6 L2249.8,1341.0 L2251.8,1342.4 L2253.8,1343.7 L2255.8,1345.1 L2257.9,1346.5 L2259.9,1347.8 L2261.9,1349.2 L2264.0,1350.6 L2266.0,1351.9 L2268.0,1353.3 L2270.1,1354.6 L2272.1,1356.0 L2274.2,1357.3 L2276.2,1358.7 L2278.3,1360.0 L2280.3,1361.4 L2282.4,1362.7 L2284.4,1364.0 L2286.5,1365.3 L2288.5,1366.7 L2290.6,1368.0 L2292.7,1369.3 L2294.7,1370.6 L2296.8,1371.9 L2298.9,1373.2 L2300.9,1374.5 L2303.0,1375.8 L2305.1,1377.1 L2307.2,1378.4 L2309.2,1379.7 L2311.3,1380.9 L2313.4,1382.2 L2315.5,1383.5 L2317.6,1384.7 L2319.7,1386.0 L2321.8,1387.2 L2323.9,1388.5 L2326.0,1389.7 L2328.1,1391.0 L2330.2,1392.2 L2332.3,1393.4 L2334.4,1394.6 L2336.5,1395.9 L2338.6,1397.1 L2340.7,1398.3 L2342.8,1399.5 L2344.9,1400.7 L2347.1,1401.9 L2349.2,1403.0 L2351.3,1404.2 L2353.5,1405.4 L2355.6,1406.5 L2357.7,1407.7 L2359.9,1408.9 L2362.0,1410.0" fill="none" stroke="#000" stroke-width="5.6" stroke-linejoin="round"/>
<text class="pl" y="57.8"><tspan x="22.8">(</tspan><tspan x="45.8" font-weight="bold">a</tspan><tspan x="86.0">)</tspan></text>
<text class="pl" y="52.4"><tspan x="1291.9">(</tspan><tspan x="1314.0" font-weight="bold">b</tspan><tspan x="1358.9">)</tspan></text>
<text class="pl" y="912.8"><tspan x="15.9">(</tspan><tspan x="41.0" font-weight="bold">c</tspan><tspan x="79.8">)</tspan></text>
<text class="pl" y="908.8"><tspan x="1288.4">(</tspan><tspan x="1312.2" font-weight="bold">d</tspan><tspan x="1356.0">)</tspan></text>
<text class="yl" transform="translate(88.3,359.0) rotate(-90)" text-anchor="middle" textLength="518" lengthAdjust="spacingAndGlyphs">Intensity maxima</text>
<text class="yl" transform="translate(1362.5,347.0) rotate(-90)" text-anchor="middle" textLength="518" lengthAdjust="spacingAndGlyphs">Intensity maxima</text>
<text class="yl" transform="translate(88.5,1212.5) rotate(-90)" text-anchor="middle" textLength="518" lengthAdjust="spacingAndGlyphs">Intensity maxima</text>
<text class="yl" transform="translate(1352.0,1218.0) rotate(-90)" text-anchor="middle" textLength="518" lengthAdjust="spacingAndGlyphs">Intensity maxima</text>
<text class="xl" y="822.6"><tspan x="566.5" font-style="italic" font-weight="normal">z</tspan><tspan x="608.9">(</tspan><tspan x="632.6">k</tspan><tspan x="670.6">m</tspan><tspan x="724.1">)</tspan></text>
<text class="xl" y="817.0"><tspan x="1852.1" font-style="italic" font-weight="normal">z</tspan><tspan x="1894.5">(</tspan><tspan x="1918.2">k</tspan><tspan x="1956.2">m</tspan><tspan x="2009.7">)</tspan></text>
<text class="xl" y="1665.2"><tspan x="583.7" font-style="italic" font-weight="normal">z</tspan><tspan x="626.1">(</tspan><tspan x="649.8">k</tspan><tspan x="687.8">m</tspan><tspan x="741.3">)</tspan></text>
<text class="xl" y="1655.0"><tspan x="1849.0" font-style="italic" font-weight="normal">z</tspan><tspan x="1891.4">(</tspan><tspan x="1915.1">k</tspan><tspan x="1953.1">m</tspan><tspan x="2006.6">)</tspan></text>
<rect x="913.3" y="229.6" width="346.0" height="243.0" fill="#fff" stroke="#b4b4b4" stroke-width="2.6"/>
<line x1="921.0" y1="265.7" x2="1042.0" y2="265.7" stroke="#000" stroke-width="6.2"/>
<text class="lg" y="281.8"><tspan class="i" x="1053.1">&#969;</tspan><tspan class="s" x="1080.7" y="300.3">0</tspan><tspan class="b" x="1095.3" y="281.8">=</tspan><tspan class="b" x="1125.1">0.01m</tspan></text>
<line x1="921.0" y1="346.9" x2="1042.0" y2="346.9" stroke="#000" stroke-width="6.2" stroke-dasharray="30 27"/>
<text class="lg" y="363.2"><tspan class="i" x="1053.1">&#969;</tspan><tspan class="s" x="1080.7" y="381.7">0</tspan><tspan class="b" x="1095.3" y="363.2">=</tspan><tspan class="b" x="1125.1">0.02m</tspan></text>
<line x1="921.0" y1="428.1" x2="1042.0" y2="428.1" stroke="#000" stroke-width="6.2" stroke-dasharray="10 23.7"/>
<text class="lg" y="444.6"><tspan class="i" x="1053.1">&#969;</tspan><tspan class="s" x="1080.7" y="463.1">0</tspan><tspan class="b" x="1095.3" y="444.6">=</tspan><tspan class="b" x="1125.1">0.03m</tspan></text>
<rect x="1971.9" y="51.9" width="337.2" height="242.6" fill="#fff" stroke="#b4b4b4" stroke-width="2.6"/>
<line x1="1975.0" y1="84.8" x2="2095.5" y2="84.8" stroke="#000" stroke-width="6.2"/>
<text class="lg" y="101.5"><tspan class="i" x="2107.0">&#956;</tspan><tspan class="i s" x="2131.6" y="121.5">x</tspan><tspan x="2144.9" y="101.5">=</tspan><tspan x="2173.1">1</tspan><tspan x="2199.4">,</tspan><tspan class="i" x="2214.8">&#956;</tspan><tspan class="i s" x="2238.2" y="121.5">y</tspan><tspan x="2251.1" y="101.5">=</tspan><tspan x="2279.8">1</tspan></text>
<line x1="1975.0" y1="167.2" x2="2095.5" y2="167.2" stroke="#000" stroke-width="6.2" stroke-dasharray="30 27"/>
<text class="lg" y="183.9"><tspan class="i" x="2107.0">&#956;</tspan><tspan class="i s" x="2131.6" y="203.9">x</tspan><tspan x="2144.9" y="183.9">=</tspan><tspan x="2174.6">2</tspan><tspan x="2199.4">,</tspan><tspan class="i" x="2214.8">&#956;</tspan><tspan class="i s" x="2238.2" y="203.9">y</tspan><tspan x="2251.1" y="183.9">=</tspan><tspan x="2279.8">1</tspan></text>
<line x1="1975.0" y1="249.6" x2="2095.5" y2="249.6" stroke="#000" stroke-width="6.2" stroke-dasharray="10 23.7"/>
<text class="lg" y="266.3"><tspan class="i" x="2107.0">&#956;</tspan><tspan class="i s" x="2131.6" y="286.3">x</tspan><tspan x="2144.9" y="266.3">=</tspan><tspan x="2174.6">3</tspan><tspan x="2199.4">,</tspan><tspan class="i" x="2214.8">&#956;</tspan><tspan class="i s" x="2238.2" y="286.3">y</tspan><tspan x="2251.1" y="266.3">=</tspan><tspan x="2279.8">1</tspan></text>
<rect x="730.0" y="897.3" width="336.3" height="242.0" fill="#fff" stroke="#b4b4b4" stroke-width="2.6"/>
<line x1="732.5" y1="930.5" x2="853.8" y2="930.5" stroke="#000" stroke-width="6.2"/>
<text class="lg" y="948.0"><tspan class="i" x="865.0">&#956;</tspan><tspan class="i s" x="889.6" y="968.0">x</tspan><tspan x="902.9" y="948.0">=</tspan><tspan x="931.1">1</tspan><tspan x="957.4">,</tspan><tspan class="i" x="972.9">&#956;</tspan><tspan class="i s" x="996.2" y="968.0">y</tspan><tspan x="1009.1" y="948.0">=</tspan><tspan x="1037.8">1</tspan></text>
<line x1="732.5" y1="1012.7" x2="853.8" y2="1012.7" stroke="#000" stroke-width="6.2" stroke-dasharray="30 27"/>
<text class="lg" y="1030.2"><tspan class="i" x="865.0">&#956;</tspan><tspan class="i s" x="889.6" y="1050.2">x</tspan><tspan x="902.9" y="1030.2">=</tspan><tspan x="932.6">2</tspan><tspan x="957.4">,</tspan><tspan class="i" x="972.9">&#956;</tspan><tspan class="i s" x="996.2" y="1050.2">y</tspan><tspan x="1009.1" y="1030.2">=</tspan><tspan x="1037.8">1</tspan></text>
<line x1="732.5" y1="1094.9" x2="853.8" y2="1094.9" stroke="#000" stroke-width="6.2" stroke-dasharray="10 23.7"/>
<text class="lg" y="1112.4"><tspan class="i" x="865.0">&#956;</tspan><tspan class="i s" x="889.6" y="1132.4">x</tspan><tspan x="902.9" y="1112.4">=</tspan><tspan x="932.6">3</tspan><tspan x="957.4">,</tspan><tspan class="i" x="972.9">&#956;</tspan><tspan class="i s" x="996.2" y="1132.4">y</tspan><tspan x="1009.1" y="1112.4">=</tspan><tspan x="1037.8">1</tspan></text>
<rect x="2022.3" y="872.8" width="338.7" height="242.6" fill="#fff" stroke="#b4b4b4" stroke-width="2.6"/>
<line x1="2025.3" y1="906.3" x2="2146.0" y2="906.3" stroke="#000" stroke-width="6.2"/>
<text class="lg" y="923.1"><tspan class="i" x="2157.5">&#956;</tspan><tspan class="i s" x="2182.1" y="943.1">x</tspan><tspan x="2195.4" y="923.1">=</tspan><tspan x="2223.6">1</tspan><tspan x="2249.9">,</tspan><tspan class="i" x="2265.3">&#956;</tspan><tspan class="i s" x="2288.8" y="943.1">y</tspan><tspan x="2301.6" y="923.1">=</tspan><tspan x="2330.3">1</tspan></text>
<line x1="2025.3" y1="988.4" x2="2146.0" y2="988.4" stroke="#000" stroke-width="6.2" stroke-dasharray="30 27"/>
<text class="lg" y="1005.2"><tspan class="i" x="2157.5">&#956;</tspan><tspan class="i s" x="2182.1" y="1025.2">x</tspan><tspan x="2195.4" y="1005.2">=</tspan><tspan x="2225.1">2</tspan><tspan x="2249.9">,</tspan><tspan class="i" x="2265.3">&#956;</tspan><tspan class="i s" x="2288.8" y="1025.2">y</tspan><tspan x="2301.6" y="1005.2">=</tspan><tspan x="2330.3">1</tspan></text>
<line x1="2025.3" y1="1070.5" x2="2146.0" y2="1070.5" stroke="#000" stroke-width="6.2" stroke-dasharray="10 23.7"/>
<text class="lg" y="1087.3"><tspan class="i" x="2157.5">&#956;</tspan><tspan class="i s" x="2182.1" y="1107.3">x</tspan><tspan x="2195.4" y="1087.3">=</tspan><tspan x="2225.1">3</tspan><tspan x="2249.9">,</tspan><tspan class="i" x="2265.3">&#956;</tspan><tspan class="i s" x="2288.8" y="1107.3">y</tspan><tspan x="2301.6" y="1087.3">=</tspan><tspan x="2330.3">1</tspan></text>
<text class="lg b" y="369.2"><tspan class="i" x="2002.3">C</tspan><tspan class="i s" x="2036.0" y="388.7">n</tspan><tspan class="s" x="2053.2" y="340.2">2</tspan><tspan x="2068.2" y="369.2">=</tspan><tspan x="2097.0">10</tspan><tspan class="s" x="2146.6" y="340.7">-17</tspan><tspan x="2187.1" y="369.2">m</tspan><tspan class="s" x="2227.9" y="340.7">-2/3</tspan></text>
<text class="lg" y="448.6"><tspan class="i" x="2016.0">&#969;</tspan><tspan class="s" x="2043.6" y="467.1">0</tspan><tspan class="b" x="2058.2" y="448.6">=</tspan><tspan class="b" x="2088.0">0.01m</tspan></text>
<text class="lg b" y="1210.0"><tspan class="i" x="780.3">C</tspan><tspan class="i s" x="814.0" y="1229.5">n</tspan><tspan class="s" x="831.2" y="1181.0">2</tspan><tspan x="846.2" y="1210.0">=</tspan><tspan x="875.0">10</tspan><tspan class="s" x="924.6" y="1181.5">-17</tspan><tspan x="965.1" y="1210.0">m</tspan><tspan class="s" x="1005.9" y="1181.5">-2/3</tspan></text>
<text class="lg" y="1284.0"><tspan class="i" x="795.8">&#969;</tspan><tspan class="s" x="823.4" y="1302.5">0</tspan><tspan class="b" x="838.0" y="1284.0">=</tspan><tspan class="b" x="867.8">0.02m</tspan></text>
<text class="lg b" y="1173.5"><tspan class="i" x="2074.0">C</tspan><tspan class="i s" x="2107.7" y="1193.0">n</tspan><tspan class="s" x="2124.9" y="1144.5">2</tspan><tspan x="2139.9" y="1173.5">=</tspan><tspan x="2168.7">10</tspan><tspan class="s" x="2218.3" y="1145.0">-17</tspan><tspan x="2258.8" y="1173.5">m</tspan><tspan class="s" x="2299.6" y="1145.0">-2/3</tspan></text>
<text class="lg" y="1245.0"><tspan class="i" x="2142.6">&#969;</tspan><tspan class="s" x="2170.2" y="1263.5">0</tspan><tspan class="b" x="2184.8" y="1245.0">=</tspan><tspan class="b" x="2214.6">0.03m</tspan></text>
</svg></body></html>
